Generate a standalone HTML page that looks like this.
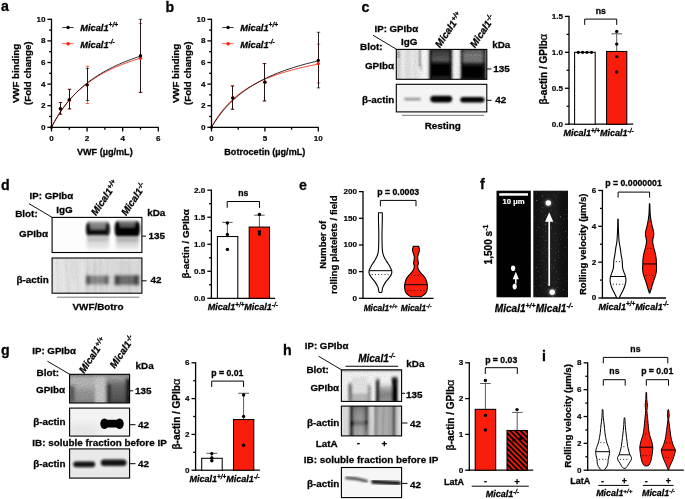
<!DOCTYPE html>
<html><head><meta charset="utf-8"><title>Figure</title>
<style>
html,body{margin:0;padding:0;background:#fff;}
body{width:685px;height:499px;overflow:hidden;}
svg{display:block;}
svg text{font-family:"Liberation Sans",sans-serif;}
</style></head><body>
<svg width="685" height="499" viewBox="0 0 685 499">
<defs>

<filter id="b1" x="-20%" y="-50%" width="140%" height="200%"><feGaussianBlur stdDeviation="1"/></filter>
<filter id="b15" x="-20%" y="-50%" width="140%" height="200%"><feGaussianBlur stdDeviation="1.5"/></filter>
<filter id="b2" x="-30%" y="-60%" width="160%" height="220%"><feGaussianBlur stdDeviation="2.2"/></filter>
<filter id="b3" x="-30%" y="-60%" width="160%" height="220%"><feGaussianBlur stdDeviation="3.2"/></filter>
<filter id="b07" x="-20%" y="-50%" width="140%" height="200%"><feGaussianBlur stdDeviation="0.7"/></filter>
<filter id="grain" x="0" y="0" width="100%" height="100%">
  <feTurbulence type="fractalNoise" baseFrequency="0.9" numOctaves="2" seed="3" result="n"/>
  <feColorMatrix type="matrix" values="0 0 0 0 0  0 0 0 0 0  0 0 0 0 0  1.6 0 0 0 -0.55"/>
</filter>
<filter id="streak" x="0" y="0" width="100%" height="100%">
  <feTurbulence type="fractalNoise" baseFrequency="0.35 0.02" numOctaves="2" seed="7" result="n"/>
  <feColorMatrix type="matrix" values="0 0 0 0 0  0 0 0 0 0  0 0 0 0 0  1.8 0 0 0 -0.6"/>
</filter>

<filter id="gb1" filterUnits="userSpaceOnUse" x="0" y="0" width="685" height="499"><feGaussianBlur stdDeviation="1.0"/></filter>
<filter id="gb13" filterUnits="userSpaceOnUse" x="0" y="0" width="685" height="499"><feGaussianBlur stdDeviation="1.3"/></filter>
<filter id="gb07" filterUnits="userSpaceOnUse" x="0" y="0" width="685" height="499"><feGaussianBlur stdDeviation="0.7"/></filter>
<filter id="gb18" filterUnits="userSpaceOnUse" x="0" y="0" width="685" height="499"><feGaussianBlur stdDeviation="1.8"/></filter>
<filter id="gbh" filterUnits="userSpaceOnUse" x="0" y="0" width="685" height="499"><feGaussianBlur stdDeviation="1.1 0.6"/></filter>
<clipPath id="cl1"><rect x="396.30" y="49.40" width="90.50" height="29.90"/></clipPath><linearGradient id="g1" x1="0" y1="0" x2="0" y2="1"><stop offset="0" stop-color="#2e2e2e" stop-opacity="1"/><stop offset="0.2" stop-color="#4c4c4c" stop-opacity="1"/><stop offset="0.36" stop-color="#5e5e5e" stop-opacity="1"/><stop offset="0.47" stop-color="#1c1c1c" stop-opacity="1"/><stop offset="0.54" stop-color="#000" stop-opacity="1"/><stop offset="0.8" stop-color="#000" stop-opacity="1"/><stop offset="0.9" stop-color="#222" stop-opacity="1"/><stop offset="1" stop-color="#303030" stop-opacity="1"/></linearGradient><linearGradient id="g2" x1="0" y1="0" x2="0" y2="1"><stop offset="0" stop-color="#484848" stop-opacity="1"/><stop offset="0.2" stop-color="#808080" stop-opacity="1"/><stop offset="0.4" stop-color="#787878" stop-opacity="1"/><stop offset="0.5" stop-color="#222" stop-opacity="1"/><stop offset="0.58" stop-color="#000" stop-opacity="1"/><stop offset="0.84" stop-color="#000" stop-opacity="1"/><stop offset="0.93" stop-color="#1a1a1a" stop-opacity="1"/><stop offset="1" stop-color="#2a2a2a" stop-opacity="1"/></linearGradient><clipPath id="cl2"><rect x="396.30" y="84.30" width="90.50" height="27.60"/></clipPath><clipPath id="cl3"><rect x="52.10" y="217.40" width="89.80" height="35.10"/></clipPath><linearGradient id="g3" x1="0" y1="0" x2="0" y2="1"><stop offset="0" stop-color="#cfcfcf" stop-opacity="1"/><stop offset="0.25" stop-color="#c4c4c4" stop-opacity="1"/><stop offset="0.45" stop-color="#d6d6d6" stop-opacity="1"/><stop offset="1" stop-color="#ededed" stop-opacity="1"/></linearGradient><linearGradient id="g4" x1="0" y1="0" x2="0" y2="1"><stop offset="0" stop-color="#c4c4c4" stop-opacity="1"/><stop offset="0.25" stop-color="#b8b8b8" stop-opacity="1"/><stop offset="0.45" stop-color="#d0d0d0" stop-opacity="1"/><stop offset="1" stop-color="#ebebeb" stop-opacity="1"/></linearGradient><linearGradient id="g5" x1="0" y1="0" x2="0" y2="1"><stop offset="0" stop-color="#b0b0b0" stop-opacity="1"/><stop offset="0.3" stop-color="#8a8a8a" stop-opacity="1"/><stop offset="1" stop-color="#6c6c6c" stop-opacity="1"/></linearGradient><linearGradient id="g6" x1="0" y1="0" x2="0" y2="1"><stop offset="0" stop-color="#a0a0a0" stop-opacity="1"/><stop offset="0.3" stop-color="#6a6a6a" stop-opacity="1"/><stop offset="1" stop-color="#3a3a3a" stop-opacity="1"/></linearGradient><clipPath id="cl4"><rect x="52.10" y="258.00" width="89.80" height="35.20"/></clipPath><clipPath id="cl5"><rect x="69.60" y="374.30" width="60.00" height="28.70"/></clipPath><linearGradient id="g7" x1="0" y1="0" x2="0" y2="1"><stop offset="0" stop-color="#b6b6b6" stop-opacity="0"/><stop offset="0.35" stop-color="#9c9c9c" stop-opacity="1"/><stop offset="1" stop-color="#8c8c8c" stop-opacity="1"/></linearGradient><linearGradient id="g8" x1="0" y1="0" x2="0" y2="1"><stop offset="0" stop-color="#a8a8a8" stop-opacity="1"/><stop offset="0.3" stop-color="#6e6e6e" stop-opacity="1"/><stop offset="1" stop-color="#505050" stop-opacity="1"/></linearGradient><clipPath id="cl6"><rect x="69.60" y="408.10" width="60.00" height="28.00"/></clipPath><clipPath id="cl7"><rect x="69.60" y="448.90" width="60.00" height="29.20"/></clipPath><clipPath id="cl8"><rect x="341.40" y="369.80" width="60.20" height="31.60"/></clipPath><linearGradient id="g9" x1="0" y1="0" x2="0" y2="1"><stop offset="0" stop-color="#777" stop-opacity="0"/><stop offset="0.25" stop-color="#777" stop-opacity="1"/><stop offset="1" stop-color="#808080" stop-opacity="1"/></linearGradient><linearGradient id="g10" x1="0" y1="0" x2="0" y2="1"><stop offset="0" stop-color="#a0a0a0" stop-opacity="0"/><stop offset="0.3" stop-color="#a0a0a0" stop-opacity="1"/><stop offset="1" stop-color="#a0a0a0" stop-opacity="1"/></linearGradient><linearGradient id="g11" x1="0" y1="0" x2="0" y2="1"><stop offset="0" stop-color="#d8d8d8" stop-opacity="0"/><stop offset="0.3" stop-color="#b0b0b0" stop-opacity="1"/><stop offset="0.6" stop-color="#858585" stop-opacity="1"/><stop offset="1" stop-color="#9a9a9a" stop-opacity="1"/></linearGradient><linearGradient id="g12" x1="0" y1="0" x2="0" y2="1"><stop offset="0" stop-color="#333" stop-opacity="0"/><stop offset="0.2" stop-color="#333" stop-opacity="1"/><stop offset="1" stop-color="#2a2a2a" stop-opacity="1"/></linearGradient><linearGradient id="g13" x1="0" y1="0" x2="0" y2="1"><stop offset="0" stop-color="#000" stop-opacity="0"/><stop offset="0.15" stop-color="#0a0a0a" stop-opacity="1"/><stop offset="1" stop-color="#000" stop-opacity="1"/></linearGradient><clipPath id="cl9"><rect x="341.40" y="406.10" width="60.20" height="29.80"/></clipPath><linearGradient id="g14" x1="0" y1="0" x2="0" y2="1"><stop offset="0" stop-color="#6a6a6a" stop-opacity="1"/><stop offset="0.2" stop-color="#8c8c8c" stop-opacity="1"/><stop offset="0.5" stop-color="#9a9a9a" stop-opacity="1"/><stop offset="1" stop-color="#a8a8a8" stop-opacity="1"/></linearGradient><linearGradient id="g15" x1="0" y1="0" x2="0" y2="1"><stop offset="0" stop-color="#444" stop-opacity="1"/><stop offset="0.7" stop-color="#5a5a5a" stop-opacity="1"/><stop offset="1" stop-color="#888" stop-opacity="1"/></linearGradient><clipPath id="cl10"><rect x="341.40" y="467.50" width="60.20" height="30.10"/></clipPath><pattern id="hatch" width="3.7" height="3.7" patternUnits="userSpaceOnUse" patternTransform="translate(506.9 429) rotate(-45 0 0)">
<rect width="3.7" height="3.7" fill="#fb1d0c"/><rect x="0" y="0" width="2.0" height="3.7" fill="#000"/></pattern><filter id="spark" x="0" y="0" width="100%" height="100%">
  <feTurbulence type="fractalNoise" baseFrequency="0.55" numOctaves="2" seed="11"/>
  <feColorMatrix type="matrix" values="0 0 0 0 1  0 0 0 0 1  0 0 0 0 1  4.5 0 0 0 -3.05"/></filter>
</defs>
<rect width="685" height="499" fill="#fff"/>
<g opacity="0.999">
<text x="1.00" y="11.20" font-size="14.2" text-anchor="start" font-weight="bold" fill="#000" stroke="#000" stroke-width="0.28" >a</text>
<line x1="51.50" y1="127.95" x2="51.50" y2="18.65" stroke="#000" stroke-width="1.3" />
<line x1="47.40" y1="127.30" x2="51.50" y2="127.30" stroke="#000" stroke-width="1.3" />
<text x="45.40" y="129.73" font-size="8.1" text-anchor="end" font-weight="bold" fill="#000" stroke="#000" stroke-width="0.18" >0</text>
<line x1="47.40" y1="105.70" x2="51.50" y2="105.70" stroke="#000" stroke-width="1.3" />
<text x="45.40" y="108.13" font-size="8.1" text-anchor="end" font-weight="bold" fill="#000" stroke="#000" stroke-width="0.18" >2</text>
<line x1="47.40" y1="84.10" x2="51.50" y2="84.10" stroke="#000" stroke-width="1.3" />
<text x="45.40" y="86.53" font-size="8.1" text-anchor="end" font-weight="bold" fill="#000" stroke="#000" stroke-width="0.18" >4</text>
<line x1="47.40" y1="62.50" x2="51.50" y2="62.50" stroke="#000" stroke-width="1.3" />
<text x="45.40" y="64.93" font-size="8.1" text-anchor="end" font-weight="bold" fill="#000" stroke="#000" stroke-width="0.18" >6</text>
<line x1="47.40" y1="40.90" x2="51.50" y2="40.90" stroke="#000" stroke-width="1.3" />
<text x="45.40" y="43.33" font-size="8.1" text-anchor="end" font-weight="bold" fill="#000" stroke="#000" stroke-width="0.18" >8</text>
<line x1="47.40" y1="19.30" x2="51.50" y2="19.30" stroke="#000" stroke-width="1.3" />
<text x="45.40" y="21.73" font-size="8.1" text-anchor="end" font-weight="bold" fill="#000" stroke="#000" stroke-width="0.18" >10</text>
<line x1="49.10" y1="116.50" x2="51.50" y2="116.50" stroke="#000" stroke-width="1.3" />
<line x1="49.10" y1="94.90" x2="51.50" y2="94.90" stroke="#000" stroke-width="1.3" />
<line x1="49.10" y1="73.30" x2="51.50" y2="73.30" stroke="#000" stroke-width="1.3" />
<line x1="49.10" y1="51.70" x2="51.50" y2="51.70" stroke="#000" stroke-width="1.3" />
<line x1="49.10" y1="30.10" x2="51.50" y2="30.10" stroke="#000" stroke-width="1.3" />
<line x1="50.85" y1="127.30" x2="158.80" y2="127.30" stroke="#000" stroke-width="1.3" />
<line x1="51.50" y1="127.30" x2="51.50" y2="131.40" stroke="#000" stroke-width="1.3" />
<text x="51.50" y="140.90" font-size="8.1" text-anchor="middle" font-weight="bold" fill="#000" stroke="#000" stroke-width="0.18" >0</text>
<line x1="87.10" y1="127.30" x2="87.10" y2="131.40" stroke="#000" stroke-width="1.3" />
<text x="87.10" y="140.90" font-size="8.1" text-anchor="middle" font-weight="bold" fill="#000" stroke="#000" stroke-width="0.18" >2</text>
<line x1="122.70" y1="127.30" x2="122.70" y2="131.40" stroke="#000" stroke-width="1.3" />
<text x="122.70" y="140.90" font-size="8.1" text-anchor="middle" font-weight="bold" fill="#000" stroke="#000" stroke-width="0.18" >4</text>
<line x1="158.30" y1="127.30" x2="158.30" y2="131.40" stroke="#000" stroke-width="1.3" />
<text x="158.30" y="140.90" font-size="8.1" text-anchor="middle" font-weight="bold" fill="#000" stroke="#000" stroke-width="0.18" >6</text>
<line x1="69.30" y1="127.30" x2="69.30" y2="129.70" stroke="#000" stroke-width="1.3" />
<line x1="104.90" y1="127.30" x2="104.90" y2="129.70" stroke="#000" stroke-width="1.3" />
<line x1="140.50" y1="127.30" x2="140.50" y2="129.70" stroke="#000" stroke-width="1.3" />
<text x="104.80" y="154.80" font-size="9.1" text-anchor="middle" font-weight="bold" fill="#000" stroke="#000" stroke-width="0.28" >VWF (µg/mL)</text>
<text x="19.20" y="73.50" font-size="9.7" text-anchor="middle" font-weight="bold" fill="#000" stroke="#000" stroke-width="0.28" transform="rotate(-90 19.20 73.50)" >VWF binding</text>
<text x="31.20" y="73.20" font-size="9.7" text-anchor="middle" font-weight="bold" fill="#000" stroke="#000" stroke-width="0.28" transform="rotate(-90 31.20 73.20)" >(Fold change)</text>
<path d="M51.50 127.30 L52.98 124.40 L54.47 121.64 L55.95 119.02 L57.43 116.52 L58.92 114.14 L60.40 111.87 L61.88 109.70 L63.37 107.63 L64.85 105.64 L66.33 103.74 L67.82 101.91 L69.30 100.16 L70.78 98.47 L72.27 96.85 L73.75 95.30 L75.23 93.80 L76.72 92.35 L78.20 90.96 L79.68 89.62 L81.17 88.32 L82.65 87.06 L84.13 85.85 L85.62 84.68 L87.10 83.55 L88.58 82.45 L90.07 81.39 L91.55 80.35 L93.03 79.36 L94.52 78.39 L96.00 77.45 L97.48 76.53 L98.97 75.64 L100.45 74.78 L101.93 73.94 L103.42 73.13 L104.90 72.33 L106.38 71.56 L107.87 70.81 L109.35 70.08 L110.83 69.37 L112.32 68.67 L113.80 67.99 L115.28 67.33 L116.77 66.69 L118.25 66.06 L119.73 65.44 L121.22 64.84 L122.70 64.26 L124.18 63.68 L125.67 63.13 L127.15 62.58 L128.63 62.04 L130.12 61.52 L131.60 61.01 L133.08 60.51 L134.57 60.02 L136.05 59.54 L137.53 59.07 L139.02 58.61 L140.50 58.16" fill="none" stroke="#fb1d0c" stroke-width="0.85" />
<path d="M51.50 127.30 L52.98 124.45 L54.47 121.73 L55.95 119.13 L57.43 116.65 L58.92 114.28 L60.40 112.01 L61.88 109.83 L63.37 107.74 L64.85 105.74 L66.33 103.81 L67.82 101.96 L69.30 100.18 L70.78 98.46 L72.27 96.81 L73.75 95.21 L75.23 93.67 L76.72 92.19 L78.20 90.75 L79.68 89.36 L81.17 88.02 L82.65 86.72 L84.13 85.46 L85.62 84.25 L87.10 83.06 L88.58 81.92 L90.07 80.81 L91.55 79.73 L93.03 78.68 L94.52 77.66 L96.00 76.67 L97.48 75.71 L98.97 74.78 L100.45 73.87 L101.93 72.98 L103.42 72.12 L104.90 71.28 L106.38 70.46 L107.87 69.67 L109.35 68.89 L110.83 68.13 L112.32 67.39 L113.80 66.67 L115.28 65.96 L116.77 65.27 L118.25 64.60 L119.73 63.94 L121.22 63.30 L122.70 62.67 L124.18 62.06 L125.67 61.46 L127.15 60.87 L128.63 60.30 L130.12 59.74 L131.60 59.19 L133.08 58.65 L134.57 58.12 L136.05 57.60 L137.53 57.10 L139.02 56.60 L140.50 56.11" fill="none" stroke="#000" stroke-width="0.85" />
<line x1="60.50" y1="114.34" x2="60.50" y2="102.46" stroke="#fb1d0c" stroke-width="0.6" />
<line x1="58.80" y1="102.46" x2="62.20" y2="102.46" stroke="#fb1d0c" stroke-width="0.7" />
<line x1="58.80" y1="114.34" x2="62.20" y2="114.34" stroke="#fb1d0c" stroke-width="0.7" />
<line x1="69.50" y1="109.16" x2="69.50" y2="89.50" stroke="#fb1d0c" stroke-width="0.6" />
<line x1="67.80" y1="89.50" x2="71.20" y2="89.50" stroke="#fb1d0c" stroke-width="0.7" />
<line x1="67.80" y1="109.16" x2="71.20" y2="109.16" stroke="#fb1d0c" stroke-width="0.7" />
<line x1="87.50" y1="103.54" x2="87.50" y2="66.28" stroke="#fb1d0c" stroke-width="0.6" />
<line x1="85.80" y1="66.28" x2="89.20" y2="66.28" stroke="#fb1d0c" stroke-width="0.7" />
<line x1="85.80" y1="103.54" x2="89.20" y2="103.54" stroke="#fb1d0c" stroke-width="0.7" />
<line x1="140.50" y1="92.42" x2="140.50" y2="23.40" stroke="#fb1d0c" stroke-width="0.6" />
<line x1="138.80" y1="23.40" x2="142.20" y2="23.40" stroke="#fb1d0c" stroke-width="0.7" />
<line x1="138.80" y1="92.42" x2="142.20" y2="92.42" stroke="#fb1d0c" stroke-width="0.7" />
<line x1="60.50" y1="114.12" x2="60.50" y2="102.46" stroke="#000" stroke-width="0.85" />
<line x1="58.80" y1="102.46" x2="62.20" y2="102.46" stroke="#000" stroke-width="0.7" />
<line x1="58.80" y1="114.12" x2="62.20" y2="114.12" stroke="#000" stroke-width="0.7" />
<line x1="69.50" y1="108.72" x2="69.50" y2="89.18" stroke="#000" stroke-width="0.85" />
<line x1="67.80" y1="89.18" x2="71.20" y2="89.18" stroke="#000" stroke-width="0.7" />
<line x1="67.80" y1="108.72" x2="71.20" y2="108.72" stroke="#000" stroke-width="0.7" />
<line x1="87.50" y1="100.41" x2="87.50" y2="68.33" stroke="#000" stroke-width="0.85" />
<line x1="85.80" y1="68.33" x2="89.20" y2="68.33" stroke="#000" stroke-width="0.7" />
<line x1="85.80" y1="100.41" x2="89.20" y2="100.41" stroke="#000" stroke-width="0.7" />
<line x1="140.50" y1="92.42" x2="140.50" y2="19.30" stroke="#000" stroke-width="0.85" />
<line x1="138.80" y1="19.30" x2="142.20" y2="19.30" stroke="#000" stroke-width="0.7" />
<line x1="138.80" y1="92.42" x2="142.20" y2="92.42" stroke="#000" stroke-width="0.7" />
<circle cx="60.40" cy="108.72" r="1.7" fill="#fb1d0c" />
<circle cx="69.30" cy="100.30" r="1.7" fill="#fb1d0c" />
<circle cx="87.10" cy="84.86" r="1.7" fill="#fb1d0c" />
<circle cx="140.50" cy="58.18" r="1.7" fill="#fb1d0c" />
<circle cx="60.40" cy="108.72" r="1.7" fill="#000" />
<circle cx="69.30" cy="99.65" r="1.7" fill="#000" />
<circle cx="87.10" cy="84.86" r="1.7" fill="#000" />
<circle cx="140.50" cy="55.80" r="1.7" fill="#000" />
<circle cx="51.50" cy="127.30" r="1.5" fill="#000" />
<line x1="62.30" y1="27.50" x2="73.60" y2="27.50" stroke="#000" stroke-width="0.8" />
<circle cx="68.10" cy="27.50" r="1.7" fill="#000" />
<text x="80.20" y="30.60" font-size="9.3" text-anchor="start" font-weight="bold" font-style="italic" fill="#000" stroke="#000" stroke-width="0.28" >Mical1<tspan font-size="6.51" dy="-3.16">+/+</tspan></text>
<line x1="62.30" y1="43.70" x2="73.60" y2="43.70" stroke="#fb1d0c" stroke-width="0.8" />
<circle cx="68.10" cy="43.80" r="1.7" fill="#fb1d0c" />
<text x="80.20" y="47.60" font-size="9.3" text-anchor="start" font-weight="bold" font-style="italic" fill="#000" stroke="#000" stroke-width="0.28" >Mical1<tspan font-size="6.51" dy="-3.16">-/-</tspan></text>
<text x="165.50" y="11.60" font-size="14.2" text-anchor="start" font-weight="bold" fill="#000" stroke="#000" stroke-width="0.28" >b</text>
<line x1="211.50" y1="127.95" x2="211.50" y2="18.65" stroke="#000" stroke-width="1.3" />
<line x1="207.40" y1="127.30" x2="211.50" y2="127.30" stroke="#000" stroke-width="1.3" />
<text x="205.40" y="129.73" font-size="8.1" text-anchor="end" font-weight="bold" fill="#000" stroke="#000" stroke-width="0.18" >0</text>
<line x1="207.40" y1="105.70" x2="211.50" y2="105.70" stroke="#000" stroke-width="1.3" />
<text x="205.40" y="108.13" font-size="8.1" text-anchor="end" font-weight="bold" fill="#000" stroke="#000" stroke-width="0.18" >2</text>
<line x1="207.40" y1="84.10" x2="211.50" y2="84.10" stroke="#000" stroke-width="1.3" />
<text x="205.40" y="86.53" font-size="8.1" text-anchor="end" font-weight="bold" fill="#000" stroke="#000" stroke-width="0.18" >4</text>
<line x1="207.40" y1="62.50" x2="211.50" y2="62.50" stroke="#000" stroke-width="1.3" />
<text x="205.40" y="64.93" font-size="8.1" text-anchor="end" font-weight="bold" fill="#000" stroke="#000" stroke-width="0.18" >6</text>
<line x1="207.40" y1="40.90" x2="211.50" y2="40.90" stroke="#000" stroke-width="1.3" />
<text x="205.40" y="43.33" font-size="8.1" text-anchor="end" font-weight="bold" fill="#000" stroke="#000" stroke-width="0.18" >8</text>
<line x1="207.40" y1="19.30" x2="211.50" y2="19.30" stroke="#000" stroke-width="1.3" />
<text x="205.40" y="21.73" font-size="8.1" text-anchor="end" font-weight="bold" fill="#000" stroke="#000" stroke-width="0.18" >10</text>
<line x1="209.10" y1="116.50" x2="211.50" y2="116.50" stroke="#000" stroke-width="1.3" />
<line x1="209.10" y1="94.90" x2="211.50" y2="94.90" stroke="#000" stroke-width="1.3" />
<line x1="209.10" y1="73.30" x2="211.50" y2="73.30" stroke="#000" stroke-width="1.3" />
<line x1="209.10" y1="51.70" x2="211.50" y2="51.70" stroke="#000" stroke-width="1.3" />
<line x1="209.10" y1="30.10" x2="211.50" y2="30.10" stroke="#000" stroke-width="1.3" />
<line x1="210.85" y1="127.30" x2="318.80" y2="127.30" stroke="#000" stroke-width="1.3" />
<line x1="211.50" y1="127.30" x2="211.50" y2="131.40" stroke="#000" stroke-width="1.3" />
<text x="211.50" y="140.90" font-size="8.1" text-anchor="middle" font-weight="bold" fill="#000" stroke="#000" stroke-width="0.18" >0</text>
<line x1="264.90" y1="127.30" x2="264.90" y2="131.40" stroke="#000" stroke-width="1.3" />
<text x="264.90" y="140.90" font-size="8.1" text-anchor="middle" font-weight="bold" fill="#000" stroke="#000" stroke-width="0.18" >5</text>
<line x1="318.30" y1="127.30" x2="318.30" y2="131.40" stroke="#000" stroke-width="1.3" />
<text x="318.30" y="140.90" font-size="8.1" text-anchor="middle" font-weight="bold" fill="#000" stroke="#000" stroke-width="0.18" >10</text>
<line x1="238.20" y1="127.30" x2="238.20" y2="129.70" stroke="#000" stroke-width="1.3" />
<line x1="291.60" y1="127.30" x2="291.60" y2="129.70" stroke="#000" stroke-width="1.3" />
<text x="264.80" y="154.80" font-size="9.1" text-anchor="middle" font-weight="bold" fill="#000" stroke="#000" stroke-width="0.28" >Botrocetin (µg/mL)</text>
<text x="179.20" y="73.50" font-size="9.7" text-anchor="middle" font-weight="bold" fill="#000" stroke="#000" stroke-width="0.28" transform="rotate(-90 179.20 73.50)" >VWF binding</text>
<text x="191.20" y="73.20" font-size="9.7" text-anchor="middle" font-weight="bold" fill="#000" stroke="#000" stroke-width="0.28" transform="rotate(-90 191.20 73.20)" >(Fold change)</text>
<path d="M211.50 127.30 L213.28 124.07 L215.06 121.06 L216.84 118.25 L218.62 115.61 L220.40 113.14 L222.18 110.81 L223.96 108.62 L225.74 106.55 L227.52 104.60 L229.30 102.75 L231.08 100.99 L232.86 99.32 L234.64 97.74 L236.42 96.23 L238.20 94.80 L239.98 93.43 L241.76 92.12 L243.54 90.87 L245.32 89.67 L247.10 88.52 L248.88 87.42 L250.66 86.37 L252.44 85.35 L254.22 84.38 L256.00 83.44 L257.78 82.54 L259.56 81.67 L261.34 80.83 L263.12 80.02 L264.90 79.24 L266.68 78.49 L268.46 77.76 L270.24 77.05 L272.02 76.37 L273.80 75.71 L275.58 75.07 L277.36 74.46 L279.14 73.86 L280.92 73.27 L282.70 72.71 L284.48 72.16 L286.26 71.63 L288.04 71.11 L289.82 70.61 L291.60 70.12 L293.38 69.64 L295.16 69.18 L296.94 68.73 L298.72 68.29 L300.50 67.86 L302.28 67.44 L304.06 67.04 L305.84 66.64 L307.62 66.25 L309.40 65.88 L311.18 65.51 L312.96 65.15 L314.74 64.80 L316.52 64.46 L318.30 64.12" fill="none" stroke="#fb1d0c" stroke-width="0.85" />
<path d="M211.50 127.30 L213.28 124.37 L215.06 121.59 L216.84 118.96 L218.62 116.47 L220.40 114.11 L222.18 111.86 L223.96 109.71 L225.74 107.67 L227.52 105.72 L229.30 103.86 L231.08 102.08 L232.86 100.38 L234.64 98.74 L236.42 97.18 L238.20 95.68 L239.98 94.23 L241.76 92.84 L243.54 91.51 L245.32 90.22 L247.10 88.99 L248.88 87.79 L250.66 86.64 L252.44 85.53 L254.22 84.45 L256.00 83.41 L257.78 82.41 L259.56 81.44 L261.34 80.50 L263.12 79.59 L264.90 78.71 L266.68 77.85 L268.46 77.02 L270.24 76.21 L272.02 75.43 L273.80 74.67 L275.58 73.93 L277.36 73.21 L279.14 72.52 L280.92 71.84 L282.70 71.18 L284.48 70.53 L286.26 69.91 L288.04 69.29 L289.82 68.70 L291.60 68.12 L293.38 67.55 L295.16 67.00 L296.94 66.46 L298.72 65.94 L300.50 65.42 L302.28 64.92 L304.06 64.43 L305.84 63.95 L307.62 63.49 L309.40 63.03 L311.18 62.58 L312.96 62.14 L314.74 61.72 L316.52 61.30 L318.30 60.89" fill="none" stroke="#000" stroke-width="0.85" />
<line x1="232.50" y1="109.26" x2="232.50" y2="85.40" stroke="#fb1d0c" stroke-width="0.6" />
<line x1="230.80" y1="85.40" x2="234.20" y2="85.40" stroke="#fb1d0c" stroke-width="0.7" />
<line x1="230.80" y1="109.26" x2="234.20" y2="109.26" stroke="#fb1d0c" stroke-width="0.7" />
<line x1="264.50" y1="100.95" x2="264.50" y2="63.58" stroke="#fb1d0c" stroke-width="0.6" />
<line x1="262.80" y1="63.58" x2="266.20" y2="63.58" stroke="#fb1d0c" stroke-width="0.7" />
<line x1="262.80" y1="100.95" x2="266.20" y2="100.95" stroke="#fb1d0c" stroke-width="0.7" />
<line x1="318.50" y1="83.02" x2="318.50" y2="44.14" stroke="#fb1d0c" stroke-width="0.6" />
<line x1="316.80" y1="44.14" x2="320.20" y2="44.14" stroke="#fb1d0c" stroke-width="0.7" />
<line x1="316.80" y1="83.02" x2="320.20" y2="83.02" stroke="#fb1d0c" stroke-width="0.7" />
<line x1="232.50" y1="109.26" x2="232.50" y2="86.15" stroke="#000" stroke-width="0.85" />
<line x1="230.80" y1="86.15" x2="234.20" y2="86.15" stroke="#000" stroke-width="0.7" />
<line x1="230.80" y1="109.26" x2="234.20" y2="109.26" stroke="#000" stroke-width="0.7" />
<line x1="264.50" y1="100.95" x2="264.50" y2="63.58" stroke="#000" stroke-width="0.85" />
<line x1="262.80" y1="63.58" x2="266.20" y2="63.58" stroke="#000" stroke-width="0.7" />
<line x1="262.80" y1="100.95" x2="266.20" y2="100.95" stroke="#000" stroke-width="0.7" />
<line x1="318.50" y1="87.88" x2="318.50" y2="32.26" stroke="#000" stroke-width="0.85" />
<line x1="316.80" y1="32.26" x2="320.20" y2="32.26" stroke="#000" stroke-width="0.7" />
<line x1="316.80" y1="87.88" x2="320.20" y2="87.88" stroke="#000" stroke-width="0.7" />
<circle cx="232.86" cy="97.92" r="1.7" fill="#fb1d0c" />
<circle cx="264.90" cy="82.16" r="1.7" fill="#fb1d0c" />
<circle cx="318.30" cy="63.58" r="1.7" fill="#fb1d0c" />
<circle cx="232.86" cy="97.92" r="1.7" fill="#000" />
<circle cx="264.90" cy="82.16" r="1.7" fill="#000" />
<circle cx="318.30" cy="60.34" r="1.7" fill="#000" />
<circle cx="211.50" cy="127.30" r="1.5" fill="#000" />
<line x1="222.30" y1="27.50" x2="233.60" y2="27.50" stroke="#000" stroke-width="0.8" />
<circle cx="228.10" cy="27.50" r="1.7" fill="#000" />
<text x="240.20" y="30.60" font-size="9.3" text-anchor="start" font-weight="bold" font-style="italic" fill="#000" stroke="#000" stroke-width="0.28" >Mical1<tspan font-size="6.51" dy="-3.16">+/+</tspan></text>
<line x1="222.30" y1="43.70" x2="233.60" y2="43.70" stroke="#fb1d0c" stroke-width="0.8" />
<circle cx="228.10" cy="43.80" r="1.7" fill="#fb1d0c" />
<text x="240.20" y="47.60" font-size="9.3" text-anchor="start" font-weight="bold" font-style="italic" fill="#000" stroke="#000" stroke-width="0.28" >Mical1<tspan font-size="6.51" dy="-3.16">-/-</tspan></text>
<text x="361.50" y="12.00" font-size="14.2" text-anchor="start" font-weight="bold" fill="#000" stroke="#000" stroke-width="0.28" >c</text>
<text x="374.50" y="31.90" font-size="9.7" text-anchor="start" font-weight="bold" fill="#000" stroke="#000" stroke-width="0.28" >IP: GPIbα</text>
<text x="401.00" y="45.40" font-size="9.9" text-anchor="start" font-weight="bold" fill="#000" stroke="#000" stroke-width="0.28" >IgG</text>
<text x="360.00" y="49.60" font-size="9.9" text-anchor="start" font-weight="bold" fill="#000" stroke="#000" stroke-width="0.28" >Blot:</text>
<text x="394.00" y="69.00" font-size="9.9" text-anchor="end" font-weight="bold" fill="#000" stroke="#000" stroke-width="0.28" >GPIbα</text>
<text x="394.40" y="103.30" font-size="9.9" text-anchor="end" font-weight="bold" fill="#000" stroke="#000" stroke-width="0.28" >β-actin</text>
<text x="492.20" y="48.30" font-size="9.9" text-anchor="start" font-weight="bold" fill="#000" stroke="#000" stroke-width="0.28" >kDa</text>
<text x="493.20" y="72.00" font-size="9.9" text-anchor="start" font-weight="bold" fill="#000" stroke="#000" stroke-width="0.28" >135</text>
<text x="495.30" y="102.70" font-size="9.9" text-anchor="start" font-weight="bold" fill="#000" stroke="#000" stroke-width="0.28" >42</text>
<line x1="486.80" y1="69.00" x2="491.40" y2="69.00" stroke="#000" stroke-width="1.0" />
<line x1="486.80" y1="100.30" x2="491.60" y2="100.30" stroke="#000" stroke-width="1.0" />
<line x1="373.00" y1="35.20" x2="396.30" y2="49.20" stroke="#000" stroke-width="0.95" />
<text x="440.10" y="48.40" font-size="9.9" text-anchor="start" font-weight="bold" font-style="italic" fill="#000" stroke="#000" stroke-width="0.28" transform="rotate(-56 440.10 48.40)" >Mical1<tspan font-size="6.93" dy="-3.37">+/+</tspan></text>
<text x="475.00" y="48.40" font-size="9.9" text-anchor="start" font-weight="bold" font-style="italic" fill="#000" stroke="#000" stroke-width="0.28" transform="rotate(-56 475.00 48.40)" >Mical1<tspan font-size="6.93" dy="-3.37">-/-</tspan></text>
<line x1="402.00" y1="115.30" x2="484.00" y2="115.30" stroke="#777" stroke-width="1.0" />
<text x="442.80" y="129.20" font-size="9.9" text-anchor="middle" font-weight="bold" fill="#000" stroke="#000" stroke-width="0.28" >Resting</text>
<g clip-path="url(#cl1)">
<rect x="396.30" y="49.40" width="90.50" height="29.90" fill="#efefef"/>
<g filter="url(#gbh)">
<rect x="397.00" y="49.00" width="3.50" height="31.00" rx="0" fill="#c8c8c8" opacity="0.8"/>
<rect x="397.50" y="51.00" width="1.70" height="7.00" rx="0" fill="#555" opacity="0.7"/>
<rect x="405.00" y="49.00" width="6.00" height="31.00" rx="0" fill="#dcdcdc" opacity="0.8"/>
<rect x="413.50" y="49.00" width="4.00" height="31.00" rx="0" fill="#e0e0e0" opacity="0.8"/>
<rect x="419.20" y="49.00" width="1.50" height="17.00" rx="0" fill="#3a3a3a" opacity="0.9"/>
<path d="M420 64 L423.5 75.5" stroke="#666" stroke-width="1.2" fill="none"/>
<ellipse cx="423.3" cy="74.8" rx="1.1" ry="1.9" fill="#111" transform="rotate(-35 423.3 74.8)"/>
<rect x="421.60" y="49.00" width="7.00" height="31.00" rx="0" fill="#f9f9f9" opacity="1.0"/>
<rect x="428.80" y="48.00" width="23.60" height="33.00" rx="0" fill="url(#g1)" opacity="1.0"/>
<rect x="428.80" y="48.00" width="3.20" height="33.00" rx="0" fill="#0a0a0a" opacity="0.8"/>
<rect x="449.00" y="48.00" width="3.40" height="33.00" rx="0" fill="#141414" opacity="0.75"/>
<rect x="453.00" y="48.00" width="6.80" height="33.00" rx="0" fill="#f4f4f4" opacity="1.0"/>
<rect x="460.20" y="48.00" width="25.80" height="33.00" rx="0" fill="url(#g2)" opacity="1.0"/>
<rect x="460.20" y="48.00" width="3.00" height="33.00" rx="0" fill="#111" opacity="0.75"/>
<rect x="482.80" y="48.00" width="3.20" height="33.00" rx="0" fill="#1a1a1a" opacity="0.75"/>
</g>
<rect x="396.00" y="49.00" width="33.00" height="31.00" filter="url(#grain)" opacity="0.1"/>
<rect x="429.00" y="49.00" width="23.40" height="31.00" filter="url(#grain)" opacity="0.3"/>
<rect x="452.40" y="49.00" width="7.80" height="31.00" filter="url(#grain)" opacity="0.08"/>
<rect x="460.20" y="49.00" width="26.80" height="31.00" filter="url(#grain)" opacity="0.3"/>
</g>
<rect x="396.30" y="49.40" width="90.50" height="29.90" fill="none" stroke="#000" stroke-width="1.1" />
<g clip-path="url(#cl2)">
<rect x="396.30" y="84.30" width="90.50" height="27.60" fill="#f4f4f4"/>
<rect x="404.00" y="97.70" width="17.00" height="2.80" rx="1.40" fill="#777" opacity="0.75" filter="url(#b1)"/>
<rect x="430.30" y="95.80" width="21.90" height="6.60" rx="3.30" fill="#000" opacity="1" filter="url(#b1)"/>
<rect x="460.30" y="97.00" width="24.20" height="5.40" rx="2.70" fill="#000" opacity="1" filter="url(#b1)"/>
</g>
<rect x="396.30" y="84.30" width="90.50" height="27.60" fill="none" stroke="#000" stroke-width="1.1" />
<text x="1.00" y="189.70" font-size="14.2" text-anchor="start" font-weight="bold" fill="#000" stroke="#000" stroke-width="0.28" >d</text>
<text x="29.60" y="198.60" font-size="9.7" text-anchor="start" font-weight="bold" fill="#000" stroke="#000" stroke-width="0.28" >IP: GPIbα</text>
<text x="56.30" y="212.60" font-size="9.9" text-anchor="start" font-weight="bold" fill="#000" stroke="#000" stroke-width="0.28" >IgG</text>
<text x="15.20" y="217.40" font-size="9.9" text-anchor="start" font-weight="bold" fill="#000" stroke="#000" stroke-width="0.28" >Blot:</text>
<text x="48.20" y="236.70" font-size="9.9" text-anchor="end" font-weight="bold" fill="#000" stroke="#000" stroke-width="0.28" >GPIbα</text>
<text x="48.80" y="283.20" font-size="9.9" text-anchor="end" font-weight="bold" fill="#000" stroke="#000" stroke-width="0.28" >β-actin</text>
<text x="147.20" y="215.60" font-size="9.9" text-anchor="start" font-weight="bold" fill="#000" stroke="#000" stroke-width="0.28" >kDa</text>
<text x="148.50" y="238.50" font-size="9.9" text-anchor="start" font-weight="bold" fill="#000" stroke="#000" stroke-width="0.28" >135</text>
<text x="150.40" y="282.50" font-size="9.9" text-anchor="start" font-weight="bold" fill="#000" stroke="#000" stroke-width="0.28" >42</text>
<line x1="142.00" y1="236.10" x2="146.00" y2="236.10" stroke="#000" stroke-width="1.0" />
<line x1="142.00" y1="280.80" x2="146.60" y2="280.80" stroke="#000" stroke-width="1.0" />
<line x1="28.90" y1="203.60" x2="52.20" y2="217.40" stroke="#000" stroke-width="0.95" />
<text x="96.10" y="216.30" font-size="9.9" text-anchor="start" font-weight="bold" font-style="italic" fill="#000" stroke="#000" stroke-width="0.28" transform="rotate(-56 96.10 216.30)" >Mical1<tspan font-size="6.93" dy="-3.37">+/+</tspan></text>
<text x="126.20" y="216.30" font-size="9.9" text-anchor="start" font-weight="bold" font-style="italic" fill="#000" stroke="#000" stroke-width="0.28" transform="rotate(-56 126.20 216.30)" >Mical1<tspan font-size="6.93" dy="-3.37">-/-</tspan></text>
<line x1="57.00" y1="297.20" x2="139.30" y2="297.20" stroke="#777" stroke-width="1.0" />
<text x="98.00" y="310.40" font-size="9.9" text-anchor="middle" font-weight="bold" fill="#000" stroke="#000" stroke-width="0.28" >VWF/Botro</text>
<g clip-path="url(#cl3)">
<rect x="52.10" y="217.40" width="89.80" height="35.10" fill="#fdfdfd"/>
<g filter="url(#gb18)">
<rect x="86.80" y="235.00" width="22.20" height="14.50" rx="0" fill="url(#g3)" opacity="1.0"/>
<rect x="87.20" y="238.20" width="21.40" height="2.80" rx="0" fill="#b8b8b8" opacity="0.8"/>
<rect x="116.00" y="236.00" width="22.80" height="13.50" rx="0" fill="url(#g4)" opacity="1.0"/>
<rect x="116.40" y="238.80" width="22.00" height="2.80" rx="0" fill="#a8a8a8" opacity="0.8"/>
</g>
<g filter="url(#gb13)">
<rect x="87.00" y="221.20" width="22.00" height="9.80" rx="2" fill="url(#g5)" opacity="1"/>
<rect x="86.60" y="229.60" width="22.80" height="5.60" rx="2.5" fill="#0e0e0e" opacity="1"/>
<ellipse cx="88.20" cy="229.00" rx="2.30" ry="6.80" fill="#0a0a0a" opacity="1.0"/>
<ellipse cx="107.60" cy="229.00" rx="2.30" ry="6.80" fill="#141414" opacity="1.0"/>
<rect x="116.00" y="220.60" width="22.80" height="9.40" rx="2" fill="url(#g6)" opacity="1"/>
<rect x="115.40" y="227.60" width="23.80" height="8.60" rx="3" fill="#000" opacity="1"/>
<ellipse cx="117.40" cy="228.80" rx="2.80" ry="7.80" fill="#000" opacity="1.0"/>
<ellipse cx="137.20" cy="228.80" rx="2.80" ry="7.80" fill="#000" opacity="1.0"/>
</g>
</g>
<rect x="52.10" y="217.40" width="89.80" height="35.10" fill="none" stroke="#000" stroke-width="1.1" />
<g clip-path="url(#cl4)">
<rect x="52.10" y="258.00" width="89.80" height="35.20" fill="#e8e8e8"/>
<g filter="url(#gb18)">
<rect x="86.00" y="260.00" width="23.00" height="33.00" rx="0" fill="#d8d8d8" opacity="0.7"/>
<rect x="114.50" y="260.00" width="25.00" height="33.00" rx="0" fill="#d6d6d6" opacity="0.7"/>
<rect x="86.50" y="275.50" width="22.00" height="9.00" rx="0" fill="#8c8c8c" opacity="1.0"/>
<rect x="86.20" y="275.20" width="4.00" height="9.60" rx="0" fill="#484848" opacity="0.85"/>
<rect x="104.50" y="275.50" width="4.10" height="9.00" rx="0" fill="#5a5a5a" opacity="0.8"/>
<rect x="115.00" y="275.00" width="24.00" height="10.20" rx="0" fill="#707070" opacity="1.0"/>
<rect x="114.60" y="274.80" width="4.60" height="10.60" rx="0" fill="#333" opacity="0.85"/>
<rect x="134.00" y="274.80" width="5.20" height="10.60" rx="0" fill="#3c3c3c" opacity="0.85"/>
</g>
<rect x="52.00" y="258.00" width="90.00" height="36.00" filter="url(#streak)" opacity="0.07"/>
<rect x="52.00" y="258.00" width="90.00" height="36.00" filter="url(#grain)" opacity="0.06"/>
</g>
<rect x="52.10" y="258.00" width="89.80" height="35.20" fill="none" stroke="#000" stroke-width="1.1" />
<text x="1.00" y="355.00" font-size="14.2" text-anchor="start" font-weight="bold" fill="#000" stroke="#000" stroke-width="0.28" >g</text>
<text x="32.30" y="354.30" font-size="9.7" text-anchor="start" font-weight="bold" fill="#000" stroke="#000" stroke-width="0.28" >IP: GPIbα</text>
<text x="36.60" y="376.30" font-size="9.9" text-anchor="start" font-weight="bold" fill="#000" stroke="#000" stroke-width="0.28" >Blot:</text>
<text x="65.20" y="393.30" font-size="9.9" text-anchor="end" font-weight="bold" fill="#000" stroke="#000" stroke-width="0.28" >GPIbα</text>
<text x="65.60" y="425.40" font-size="9.9" text-anchor="end" font-weight="bold" fill="#000" stroke="#000" stroke-width="0.28" >β-actin</text>
<text x="32.30" y="445.80" font-size="9.9" text-anchor="start" font-weight="bold" fill="#000" stroke="#000" stroke-width="0.28" >IB: soluble fraction before IP</text>
<text x="65.60" y="467.40" font-size="9.9" text-anchor="end" font-weight="bold" fill="#000" stroke="#000" stroke-width="0.28" >β-actin</text>
<text x="135.60" y="369.00" font-size="9.9" text-anchor="start" font-weight="bold" fill="#000" stroke="#000" stroke-width="0.28" >kDa</text>
<text x="135.00" y="394.30" font-size="9.9" text-anchor="start" font-weight="bold" fill="#000" stroke="#000" stroke-width="0.28" >135</text>
<text x="138.00" y="428.10" font-size="9.9" text-anchor="start" font-weight="bold" fill="#000" stroke="#000" stroke-width="0.28" >42</text>
<text x="138.00" y="466.60" font-size="9.9" text-anchor="start" font-weight="bold" fill="#000" stroke="#000" stroke-width="0.28" >42</text>
<line x1="129.60" y1="390.80" x2="133.20" y2="390.80" stroke="#000" stroke-width="1.0" />
<line x1="129.60" y1="424.70" x2="135.50" y2="424.70" stroke="#000" stroke-width="1.0" />
<line x1="129.60" y1="463.70" x2="135.50" y2="463.70" stroke="#000" stroke-width="1.0" />
<line x1="47.40" y1="361.20" x2="69.70" y2="374.30" stroke="#000" stroke-width="0.95" />
<text x="84.00" y="373.90" font-size="9.9" text-anchor="start" font-weight="bold" font-style="italic" fill="#000" stroke="#000" stroke-width="0.28" transform="rotate(-56 84.00 373.90)" >Mical1<tspan font-size="6.93" dy="-3.37">+/+</tspan></text>
<text x="114.80" y="369.00" font-size="9.9" text-anchor="start" font-weight="bold" font-style="italic" fill="#000" stroke="#000" stroke-width="0.28" transform="rotate(-56 114.80 369.00)" >Mical1<tspan font-size="6.93" dy="-3.37">-/-</tspan></text>
<g clip-path="url(#cl5)">
<rect x="69.60" y="374.30" width="60.00" height="28.70" fill="#b8b8b8"/>
<g filter="url(#gb18)">
<rect x="68.00" y="373.00" width="63.00" height="2.80" rx="0" fill="#4a4a4a" opacity="0.7"/>
<rect x="70.00" y="383.00" width="25.00" height="21.00" rx="0" fill="url(#g7)" opacity="1.0"/>
<rect x="69.50" y="385.50" width="5.00" height="16.00" rx="0" fill="#4c4c4c" opacity="0.85"/>
<rect x="95.00" y="377.00" width="11.00" height="27.00" rx="0" fill="#c9c9c9" opacity="0.95"/>
<rect x="106.00" y="377.00" width="24.00" height="27.00" rx="0" fill="url(#g8)" opacity="1.0"/>
<rect x="106.30" y="384.00" width="4.70" height="20.00" rx="0" fill="#2c2c2c" opacity="0.85"/>
<rect x="125.80" y="378.00" width="4.70" height="26.00" rx="0" fill="#080808" opacity="0.95"/>
<rect x="70.00" y="401.80" width="25.00" height="2.20" rx="0" fill="#555" opacity="0.6"/>
<rect x="106.00" y="401.80" width="24.00" height="2.20" rx="0" fill="#222" opacity="0.6"/>
</g>
<rect x="69.00" y="374.00" width="61.00" height="30.00" filter="url(#grain)" opacity="0.18"/>
</g>
<rect x="69.60" y="374.30" width="60.00" height="28.70" fill="none" stroke="#000" stroke-width="1.1" />
<g clip-path="url(#cl6)">
<rect x="69.60" y="408.10" width="60.00" height="28.00" fill="#f3f3f3"/>
<rect x="69.00" y="424.00" width="29.00" height="13.00" rx="0" fill="#e0e0e0" opacity="0.7" filter="url(#b3)"/>
<rect x="101.00" y="419.80" width="22.20" height="7.80" rx="3.80" fill="#000" opacity="1" filter="url(#b07)"/>
<ellipse cx="104.40" cy="423.70" rx="4.10" ry="5.30" fill="#000" opacity="1" filter="url(#b07)"/>
<ellipse cx="119.60" cy="423.70" rx="4.10" ry="5.30" fill="#000" opacity="1" filter="url(#b07)"/>
</g>
<rect x="69.60" y="408.10" width="60.00" height="28.00" fill="none" stroke="#000" stroke-width="1.1" />
<g clip-path="url(#cl7)">
<rect x="69.60" y="448.90" width="60.00" height="29.20" fill="#e9e9e9"/>
<rect x="73.30" y="461.40" width="21.90" height="5.90" rx="2.95" fill="#0c0c0c" opacity="0.97" filter="url(#b1)"/>
<rect x="100.80" y="459.40" width="25.70" height="6.50" rx="3.25" fill="#0c0c0c" opacity="0.97" filter="url(#b1)"/>
</g>
<rect x="69.60" y="448.90" width="60.00" height="29.20" fill="none" stroke="#000" stroke-width="1.1" />
<text x="283.00" y="355.00" font-size="14.2" text-anchor="start" font-weight="bold" fill="#000" stroke="#000" stroke-width="0.28" >h</text>
<text x="304.80" y="349.30" font-size="9.7" text-anchor="start" font-weight="bold" fill="#000" stroke="#000" stroke-width="0.28" >IP: GPIbα</text>
<text x="306.40" y="373.10" font-size="9.9" text-anchor="start" font-weight="bold" fill="#000" stroke="#000" stroke-width="0.28" >Blot:</text>
<text x="339.00" y="390.90" font-size="9.7" text-anchor="end" font-weight="bold" fill="#000" stroke="#000" stroke-width="0.28" >GPIbα</text>
<text x="339.40" y="425.50" font-size="9.9" text-anchor="end" font-weight="bold" fill="#000" stroke="#000" stroke-width="0.28" >β-actin</text>
<text x="315.70" y="446.90" font-size="9.9" text-anchor="start" font-weight="bold" fill="#000" stroke="#000" stroke-width="0.28" >LatA</text>
<text x="358.30" y="446.40" font-size="9.9" text-anchor="middle" font-weight="bold" fill="#000" stroke="#000" stroke-width="0.28" >-</text>
<text x="384.30" y="446.90" font-size="9.9" text-anchor="middle" font-weight="bold" fill="#000" stroke="#000" stroke-width="0.28" >+</text>
<text x="303.80" y="462.80" font-size="9.9" text-anchor="start" font-weight="bold" fill="#000" stroke="#000" stroke-width="0.28" >IB: soluble fraction before IP</text>
<text x="339.40" y="487.00" font-size="9.9" text-anchor="end" font-weight="bold" fill="#000" stroke="#000" stroke-width="0.28" >β-actin</text>
<text x="406.30" y="366.50" font-size="9.9" text-anchor="start" font-weight="bold" fill="#000" stroke="#000" stroke-width="0.28" >kDa</text>
<text x="406.00" y="397.50" font-size="9.9" text-anchor="start" font-weight="bold" fill="#000" stroke="#000" stroke-width="0.28" >135</text>
<text x="410.00" y="427.00" font-size="9.9" text-anchor="start" font-weight="bold" fill="#000" stroke="#000" stroke-width="0.28" >42</text>
<text x="410.00" y="487.70" font-size="9.9" text-anchor="start" font-weight="bold" fill="#000" stroke="#000" stroke-width="0.28" >42</text>
<line x1="401.50" y1="393.30" x2="405.00" y2="393.30" stroke="#000" stroke-width="1.0" />
<line x1="401.50" y1="423.00" x2="407.50" y2="423.00" stroke="#000" stroke-width="1.0" />
<line x1="401.50" y1="483.40" x2="407.50" y2="483.40" stroke="#000" stroke-width="1.0" />
<line x1="318.60" y1="356.20" x2="341.60" y2="369.90" stroke="#000" stroke-width="0.95" />
<text x="376.80" y="361.60" font-size="10.0" text-anchor="middle" font-weight="bold" font-style="italic" fill="#000" stroke="#000" stroke-width="0.28" >Mical1<tspan font-size="7.00" dy="-3.40">-/-</tspan></text>
<line x1="345.50" y1="366.30" x2="398.20" y2="366.30" stroke="#000" stroke-width="1.1" />
<g clip-path="url(#cl8)">
<rect x="341.40" y="369.80" width="60.20" height="31.60" fill="#f4f4f4"/>
<g filter="url(#gb13)">
<rect x="340.00" y="369.00" width="63.00" height="2.00" rx="0" fill="#555" opacity="0.7"/>
<rect x="352.00" y="377.00" width="15.60" height="17.00" rx="0" fill="#e4e4e4" opacity="1.0"/>
<rect x="349.00" y="393.50" width="22.00" height="8.50" rx="0" fill="#b4b4b4" opacity="0.9"/>
<rect x="348.20" y="381.00" width="4.00" height="20.00" rx="0" fill="url(#g9)" opacity="1.0"/>
<rect x="367.40" y="382.00" width="3.60" height="19.00" rx="0" fill="url(#g10)" opacity="1.0"/>
<rect x="379.40" y="382.00" width="12.80" height="20.00" rx="0" fill="url(#g11)" opacity="1.0"/>
<rect x="375.80" y="377.00" width="3.80" height="25.00" rx="0" fill="url(#g12)" opacity="1.0"/>
<rect x="391.80" y="375.50" width="5.70" height="26.50" rx="0" fill="url(#g13)" opacity="1.0"/>
</g>
<rect x="341.00" y="370.00" width="61.00" height="32.00" filter="url(#grain)" opacity="0.1"/>
</g>
<rect x="341.40" y="369.80" width="60.20" height="31.60" fill="none" stroke="#000" stroke-width="1.1" />
<g clip-path="url(#cl9)">
<rect x="341.40" y="406.10" width="60.20" height="29.80" fill="#bdbdbd"/>
<g filter="url(#gb1)">
<rect x="340.00" y="405.00" width="8.60" height="32.00" rx="0" fill="#e0e0e0" opacity="1.0"/>
<rect x="349.80" y="405.00" width="18.60" height="32.00" rx="0" fill="url(#g14)" opacity="1.0"/>
<rect x="349.80" y="405.00" width="3.60" height="32.00" rx="0" fill="#262626" opacity="0.9"/>
<rect x="364.80" y="405.00" width="3.60" height="32.00" rx="0" fill="url(#g15)" opacity="0.9"/>
<rect x="350.50" y="420.60" width="17.50" height="5.00" rx="0" fill="#6a6a6a" opacity="0.8"/>
<ellipse cx="351.9" cy="423.6" rx="2.0" ry="2.8" fill="#000"/>
<ellipse cx="366.6" cy="422.4" rx="1.8" ry="2.2" fill="#1a1a1a"/>
<rect x="369.20" y="405.00" width="5.00" height="32.00" rx="0" fill="#dcdcdc" opacity="1.0"/>
<rect x="374.40" y="405.00" width="21.60" height="32.00" rx="0" fill="#adadad" opacity="1.0"/>
<rect x="374.40" y="405.00" width="2.80" height="32.00" rx="0" fill="#8a8a8a" opacity="0.9"/>
<rect x="392.00" y="405.00" width="3.80" height="32.00" rx="0" fill="#606060" opacity="0.9"/>
<rect x="396.60" y="405.00" width="5.90" height="32.00" rx="0" fill="#dedede" opacity="1.0"/>
</g>
<rect x="341.00" y="405.00" width="61.00" height="32.00" filter="url(#streak)" opacity="0.1"/>
</g>
<rect x="341.40" y="406.10" width="60.20" height="29.80" fill="none" stroke="#000" stroke-width="1.1" />
<g clip-path="url(#cl10)">
<rect x="341.40" y="467.50" width="60.20" height="30.10" fill="#f6f6f6"/>
<path d="M346.5 477.9 L356 478.7 L366.5 481.2" stroke="#3a3a3a" stroke-width="2.9" fill="none" stroke-linecap="round" filter="url(#b1)" opacity="0.9"/>
<path d="M373 481.7 L385 482.5 L399 483.3" stroke="#0c0c0c" stroke-width="3.9" fill="none" stroke-linecap="round" filter="url(#b1)" opacity="0.97"/>
</g>
<rect x="341.40" y="467.50" width="60.20" height="30.10" fill="none" stroke="#000" stroke-width="1.1" />
<line x1="569.00" y1="124.85" x2="569.00" y2="15.74" stroke="#000" stroke-width="1.3" />
<line x1="564.90" y1="124.20" x2="569.00" y2="124.20" stroke="#000" stroke-width="1.3" />
<text x="562.90" y="126.63" font-size="8.1" text-anchor="end" font-weight="bold" fill="#000" stroke="#000" stroke-width="0.18" >0.0</text>
<line x1="564.90" y1="88.27" x2="569.00" y2="88.27" stroke="#000" stroke-width="1.3" />
<text x="562.90" y="90.69" font-size="8.1" text-anchor="end" font-weight="bold" fill="#000" stroke="#000" stroke-width="0.18" >0.5</text>
<line x1="564.90" y1="52.33" x2="569.00" y2="52.33" stroke="#000" stroke-width="1.3" />
<text x="562.90" y="54.76" font-size="8.1" text-anchor="end" font-weight="bold" fill="#000" stroke="#000" stroke-width="0.18" >1.0</text>
<line x1="564.90" y1="16.39" x2="569.00" y2="16.39" stroke="#000" stroke-width="1.3" />
<text x="562.90" y="18.82" font-size="8.1" text-anchor="end" font-weight="bold" fill="#000" stroke="#000" stroke-width="0.18" >1.5</text>
<line x1="566.60" y1="106.23" x2="569.00" y2="106.23" stroke="#000" stroke-width="1.3" />
<line x1="566.60" y1="70.30" x2="569.00" y2="70.30" stroke="#000" stroke-width="1.3" />
<line x1="566.60" y1="34.36" x2="569.00" y2="34.36" stroke="#000" stroke-width="1.3" />
<line x1="568.35" y1="124.20" x2="633.20" y2="124.20" stroke="#000" stroke-width="1.3" />
<rect x="574.60" y="52.33" width="20.60" height="71.87" fill="#fff" stroke="#000" stroke-width="1.05" />
<rect x="606.60" y="51.47" width="20.20" height="72.73" fill="#fb1d0c" stroke="#000" stroke-width="1.05" />
<line x1="616.70" y1="33.80" x2="616.70" y2="51.00" stroke="#1a1a1a" stroke-width="0.72" />
<line x1="611.45" y1="33.80" x2="621.95" y2="33.80" stroke="#1a1a1a" stroke-width="0.72" />
<circle cx="578.30" cy="52.33" r="1.7" fill="#000" />
<circle cx="582.60" cy="52.33" r="1.7" fill="#000" />
<circle cx="587.00" cy="52.33" r="1.7" fill="#000" />
<circle cx="591.50" cy="52.33" r="1.7" fill="#000" />
<circle cx="616.70" cy="31.40" r="1.7" fill="#000" />
<circle cx="616.70" cy="44.10" r="1.7" fill="#000" />
<circle cx="616.70" cy="56.60" r="1.7" fill="#000" />
<circle cx="616.70" cy="72.00" r="1.7" fill="#000" />
<path d="M584.70 24.90 V19.10 H616.70 V24.90" fill="none" stroke="#000" stroke-width="1.0" />
<text x="600.80" y="13.50" font-size="8.7" text-anchor="middle" font-weight="bold" fill="#000" stroke="#000" stroke-width="0.28" >ns</text>
<text x="563.40" y="136.30" font-size="9.0" text-anchor="start" font-weight="bold" font-style="italic" fill="#000" stroke="#000" stroke-width="0.28" >Mical1<tspan font-size="6.30" dy="-3.06">+/+</tspan><tspan dy="3.06" font-size="9.0">Mical1</tspan><tspan font-size="6.30" dy="-3.06">-/-</tspan></text>
<text x="546.90" y="69.20" font-size="10.0" text-anchor="middle" font-weight="bold" fill="#000" stroke="#000" stroke-width="0.28" transform="rotate(-90 546.90 69.20)" >β-actin / GPIb<tspan font-weight="normal" font-size="11.0">α</tspan></text>
<line x1="211.40" y1="298.95" x2="211.40" y2="189.55" stroke="#000" stroke-width="1.3" />
<line x1="207.30" y1="298.30" x2="211.40" y2="298.30" stroke="#000" stroke-width="1.3" />
<text x="205.30" y="300.73" font-size="8.1" text-anchor="end" font-weight="bold" fill="#000" stroke="#000" stroke-width="0.18" >0.0</text>
<line x1="207.30" y1="271.28" x2="211.40" y2="271.28" stroke="#000" stroke-width="1.3" />
<text x="205.30" y="273.71" font-size="8.1" text-anchor="end" font-weight="bold" fill="#000" stroke="#000" stroke-width="0.18" >0.5</text>
<line x1="207.30" y1="244.25" x2="211.40" y2="244.25" stroke="#000" stroke-width="1.3" />
<text x="205.30" y="246.68" font-size="8.1" text-anchor="end" font-weight="bold" fill="#000" stroke="#000" stroke-width="0.18" >1.0</text>
<line x1="207.30" y1="217.23" x2="211.40" y2="217.23" stroke="#000" stroke-width="1.3" />
<text x="205.30" y="219.66" font-size="8.1" text-anchor="end" font-weight="bold" fill="#000" stroke="#000" stroke-width="0.18" >1.5</text>
<line x1="207.30" y1="190.20" x2="211.40" y2="190.20" stroke="#000" stroke-width="1.3" />
<text x="205.30" y="192.63" font-size="8.1" text-anchor="end" font-weight="bold" fill="#000" stroke="#000" stroke-width="0.18" >2.0</text>
<line x1="209.00" y1="284.79" x2="211.40" y2="284.79" stroke="#000" stroke-width="1.3" />
<line x1="209.00" y1="257.76" x2="211.40" y2="257.76" stroke="#000" stroke-width="1.3" />
<line x1="209.00" y1="230.74" x2="211.40" y2="230.74" stroke="#000" stroke-width="1.3" />
<line x1="209.00" y1="203.71" x2="211.40" y2="203.71" stroke="#000" stroke-width="1.3" />
<line x1="210.75" y1="298.30" x2="275.20" y2="298.30" stroke="#000" stroke-width="1.3" />
<rect x="217.40" y="236.52" width="20.40" height="61.78" fill="#fff" stroke="#000" stroke-width="1.05" />
<rect x="249.20" y="227.06" width="20.30" height="71.24" fill="#fb1d0c" stroke="#000" stroke-width="1.05" />
<line x1="227.40" y1="222.40" x2="227.40" y2="236.52" stroke="#1a1a1a" stroke-width="0.72" />
<line x1="222.15" y1="222.40" x2="232.65" y2="222.40" stroke="#1a1a1a" stroke-width="0.72" />
<line x1="259.40" y1="215.20" x2="259.40" y2="227.06" stroke="#1a1a1a" stroke-width="0.72" />
<line x1="254.15" y1="215.20" x2="264.65" y2="215.20" stroke="#1a1a1a" stroke-width="0.72" />
<circle cx="227.40" cy="223.00" r="1.7" fill="#000" />
<circle cx="227.40" cy="234.50" r="1.7" fill="#000" />
<circle cx="227.40" cy="249.40" r="1.7" fill="#000" />
<circle cx="259.40" cy="214.40" r="1.7" fill="#000" />
<circle cx="259.40" cy="231.60" r="1.7" fill="#000" />
<circle cx="259.40" cy="234.00" r="1.7" fill="#000" />
<path d="M227.20 207.80 V201.50 H259.50 V207.80" fill="none" stroke="#000" stroke-width="1.0" />
<text x="243.30" y="196.10" font-size="8.7" text-anchor="middle" font-weight="bold" fill="#000" stroke="#000" stroke-width="0.28" >ns</text>
<text x="207.70" y="310.10" font-size="9.0" text-anchor="start" font-weight="bold" font-style="italic" fill="#000" stroke="#000" stroke-width="0.28" >Mical1<tspan font-size="6.30" dy="-3.06">+/+</tspan><tspan dy="3.06" font-size="9.0">Mical1</tspan><tspan font-size="6.30" dy="-3.06">-/-</tspan></text>
<text x="189.50" y="243.80" font-size="9.8" text-anchor="middle" font-weight="bold" fill="#000" stroke="#000" stroke-width="0.28" transform="rotate(-90 189.50 243.80)" >β-actin / GPIbα</text>
<line x1="195.60" y1="470.85" x2="195.60" y2="362.15" stroke="#000" stroke-width="1.3" />
<line x1="191.50" y1="470.20" x2="195.60" y2="470.20" stroke="#000" stroke-width="1.3" />
<text x="189.50" y="472.63" font-size="8.1" text-anchor="end" font-weight="bold" fill="#000" stroke="#000" stroke-width="0.18" >0</text>
<line x1="191.50" y1="434.40" x2="195.60" y2="434.40" stroke="#000" stroke-width="1.3" />
<text x="189.50" y="436.83" font-size="8.1" text-anchor="end" font-weight="bold" fill="#000" stroke="#000" stroke-width="0.18" >2</text>
<line x1="191.50" y1="398.60" x2="195.60" y2="398.60" stroke="#000" stroke-width="1.3" />
<text x="189.50" y="401.03" font-size="8.1" text-anchor="end" font-weight="bold" fill="#000" stroke="#000" stroke-width="0.18" >4</text>
<line x1="191.50" y1="362.80" x2="195.60" y2="362.80" stroke="#000" stroke-width="1.3" />
<text x="189.50" y="365.23" font-size="8.1" text-anchor="end" font-weight="bold" fill="#000" stroke="#000" stroke-width="0.18" >6</text>
<line x1="193.20" y1="452.30" x2="195.60" y2="452.30" stroke="#000" stroke-width="1.3" />
<line x1="193.20" y1="416.50" x2="195.60" y2="416.50" stroke="#000" stroke-width="1.3" />
<line x1="193.20" y1="380.70" x2="195.60" y2="380.70" stroke="#000" stroke-width="1.3" />
<line x1="194.95" y1="470.20" x2="259.90" y2="470.20" stroke="#000" stroke-width="1.3" />
<rect x="201.70" y="458.30" width="20.50" height="11.90" fill="#fff" stroke="#000" stroke-width="1.05" />
<rect x="233.50" y="419.54" width="20.30" height="50.66" fill="#fb1d0c" stroke="#000" stroke-width="1.05" />
<line x1="211.80" y1="453.30" x2="211.80" y2="458.30" stroke="#1a1a1a" stroke-width="0.72" />
<line x1="206.40" y1="453.30" x2="217.20" y2="453.30" stroke="#1a1a1a" stroke-width="0.72" />
<line x1="243.60" y1="393.30" x2="243.60" y2="419.54" stroke="#1a1a1a" stroke-width="0.72" />
<line x1="238.20" y1="393.30" x2="249.00" y2="393.30" stroke="#1a1a1a" stroke-width="0.72" />
<circle cx="211.80" cy="453.60" r="1.7" fill="#000" />
<circle cx="211.80" cy="458.00" r="1.7" fill="#000" />
<circle cx="211.80" cy="460.80" r="1.7" fill="#000" />
<circle cx="243.60" cy="395.00" r="1.7" fill="#000" />
<circle cx="243.60" cy="416.40" r="1.7" fill="#000" />
<circle cx="243.60" cy="445.20" r="1.7" fill="#000" />
<path d="M211.70 387.00 V381.10 H243.60 V387.00" fill="none" stroke="#000" stroke-width="1.0" />
<text x="227.40" y="375.70" font-size="8.7" text-anchor="middle" font-weight="bold" fill="#000" stroke="#000" stroke-width="0.28" >p = 0.01</text>
<text x="189.60" y="482.00" font-size="9.0" text-anchor="start" font-weight="bold" font-style="italic" fill="#000" stroke="#000" stroke-width="0.28" >Mical1<tspan font-size="6.30" dy="-3.06">+/+</tspan><tspan dy="3.06" font-size="9.0">Mical1</tspan><tspan font-size="6.30" dy="-3.06">-/-</tspan></text>
<text x="180.20" y="414.10" font-size="10.0" text-anchor="middle" font-weight="bold" fill="#000" stroke="#000" stroke-width="0.28" transform="rotate(-90 180.20 414.10)" >β-actin / GPIb<tspan font-weight="normal" font-size="11.0">α</tspan></text>
<line x1="469.30" y1="470.85" x2="469.30" y2="362.15" stroke="#000" stroke-width="1.3" />
<line x1="465.20" y1="470.20" x2="469.30" y2="470.20" stroke="#000" stroke-width="1.3" />
<text x="463.20" y="472.63" font-size="8.1" text-anchor="end" font-weight="bold" fill="#000" stroke="#000" stroke-width="0.18" >0</text>
<line x1="465.20" y1="434.40" x2="469.30" y2="434.40" stroke="#000" stroke-width="1.3" />
<text x="463.20" y="436.83" font-size="8.1" text-anchor="end" font-weight="bold" fill="#000" stroke="#000" stroke-width="0.18" >1</text>
<line x1="465.20" y1="398.60" x2="469.30" y2="398.60" stroke="#000" stroke-width="1.3" />
<text x="463.20" y="401.03" font-size="8.1" text-anchor="end" font-weight="bold" fill="#000" stroke="#000" stroke-width="0.18" >2</text>
<line x1="465.20" y1="362.80" x2="469.30" y2="362.80" stroke="#000" stroke-width="1.3" />
<text x="463.20" y="365.23" font-size="8.1" text-anchor="end" font-weight="bold" fill="#000" stroke="#000" stroke-width="0.18" >3</text>
<line x1="468.65" y1="470.20" x2="533.20" y2="470.20" stroke="#000" stroke-width="1.3" />
<rect x="475.20" y="409.34" width="20.50" height="60.86" fill="#fb1d0c" stroke="#000" stroke-width="1.05" />
<rect x="507.00" y="430.46" width="20.40" height="39.74" fill="url(#hatch)" stroke="#000" stroke-width="1.05" />
<line x1="485.40" y1="383.50" x2="485.40" y2="409.34" stroke="#1a1a1a" stroke-width="0.72" />
<line x1="480.10" y1="383.50" x2="490.70" y2="383.50" stroke="#1a1a1a" stroke-width="0.72" />
<line x1="517.20" y1="412.40" x2="517.20" y2="430.46" stroke="#1a1a1a" stroke-width="0.72" />
<line x1="511.90" y1="412.40" x2="522.50" y2="412.40" stroke="#1a1a1a" stroke-width="0.72" />
<circle cx="485.40" cy="380.50" r="1.7" fill="#000" />
<circle cx="485.40" cy="415.40" r="1.7" fill="#000" />
<circle cx="485.40" cy="429.90" r="1.7" fill="#000" />
<circle cx="517.00" cy="409.60" r="1.7" fill="#000" />
<circle cx="513.90" cy="440.10" r="1.7" fill="#000" />
<circle cx="520.70" cy="438.40" r="1.7" fill="#000" />
<path d="M485.30 374.00 V367.70 H517.30 V374.00" fill="none" stroke="#000" stroke-width="1.0" />
<text x="501.20" y="363.00" font-size="8.7" text-anchor="middle" font-weight="bold" fill="#000" stroke="#000" stroke-width="0.28" >p = 0.03</text>
<text x="444.00" y="484.60" font-size="9.0" text-anchor="start" font-weight="bold" fill="#000" stroke="#000" stroke-width="0.28" >LatA</text>
<text x="485.50" y="484.00" font-size="9.0" text-anchor="middle" font-weight="bold" fill="#000" stroke="#000" stroke-width="0.28" >-</text>
<text x="517.20" y="484.60" font-size="9.0" text-anchor="middle" font-weight="bold" fill="#000" stroke="#000" stroke-width="0.28" >+</text>
<line x1="471.70" y1="486.20" x2="528.80" y2="486.20" stroke="#000" stroke-width="1.0" />
<text x="502.40" y="496.60" font-size="9.0" text-anchor="middle" font-weight="bold" font-style="italic" fill="#000" stroke="#000" stroke-width="0.28" >Mical1<tspan font-size="6.30" dy="-3.06">-/-</tspan></text>
<text x="453.70" y="415.00" font-size="10.0" text-anchor="middle" font-weight="bold" fill="#000" stroke="#000" stroke-width="0.28" transform="rotate(-90 453.70 415.00)" >β-actin / GPIb<tspan font-weight="normal" font-size="11.0">α</tspan></text>
<text x="542.00" y="360.60" font-size="14.2" text-anchor="start" font-weight="bold" fill="#000" stroke="#000" stroke-width="0.28" >i</text>
<text x="299.00" y="189.50" font-size="14.2" text-anchor="start" font-weight="bold" fill="#000" stroke="#000" stroke-width="0.28" >e</text>
<line x1="363.00" y1="298.95" x2="363.00" y2="190.99" stroke="#000" stroke-width="1.3" />
<line x1="358.90" y1="298.30" x2="363.00" y2="298.30" stroke="#000" stroke-width="1.3" />
<text x="356.90" y="300.73" font-size="8.1" text-anchor="end" font-weight="bold" fill="#000" stroke="#000" stroke-width="0.18" >0</text>
<line x1="358.90" y1="271.63" x2="363.00" y2="271.63" stroke="#000" stroke-width="1.3" />
<text x="356.90" y="274.06" font-size="8.1" text-anchor="end" font-weight="bold" fill="#000" stroke="#000" stroke-width="0.18" >50</text>
<line x1="358.90" y1="244.97" x2="363.00" y2="244.97" stroke="#000" stroke-width="1.3" />
<text x="356.90" y="247.40" font-size="8.1" text-anchor="end" font-weight="bold" fill="#000" stroke="#000" stroke-width="0.18" >100</text>
<line x1="358.90" y1="218.31" x2="363.00" y2="218.31" stroke="#000" stroke-width="1.3" />
<text x="356.90" y="220.74" font-size="8.1" text-anchor="end" font-weight="bold" fill="#000" stroke="#000" stroke-width="0.18" >150</text>
<line x1="358.90" y1="191.64" x2="363.00" y2="191.64" stroke="#000" stroke-width="1.3" />
<text x="356.90" y="194.07" font-size="8.1" text-anchor="end" font-weight="bold" fill="#000" stroke="#000" stroke-width="0.18" >200</text>
<line x1="362.35" y1="298.30" x2="433.60" y2="298.30" stroke="#000" stroke-width="1.3" />
<path d="M381.40 292.49 C381.50 292.32 381.78 292.29 382.00 291.47 C382.22 290.66 382.15 289.05 382.70 287.58 C383.25 286.11 384.23 284.29 385.30 282.67 C386.37 281.06 388.07 279.32 389.10 277.87 C390.13 276.43 391.07 275.18 391.50 273.98 C391.93 272.78 392.00 271.97 391.70 270.68 C391.40 269.38 390.55 267.74 389.70 266.20 C388.85 264.65 387.57 263.01 386.60 261.40 C385.63 259.78 384.58 258.12 383.90 256.49 C383.22 254.85 382.80 253.68 382.50 251.58 C382.20 249.49 382.18 246.80 382.10 243.90 C382.02 241.01 381.97 238.10 382.00 234.20 C382.03 230.30 382.25 224.06 382.30 220.49 C382.35 216.93 382.30 214.09 382.30 212.81 L378.50 212.81 C378.50 214.09 378.45 216.93 378.50 220.49 C378.55 224.06 378.77 230.30 378.80 234.20 C378.83 238.10 378.78 241.01 378.70 243.90 C378.62 246.80 378.60 249.49 378.30 251.58 C378.00 253.68 377.58 254.85 376.90 256.49 C376.22 258.12 375.17 259.78 374.20 261.40 C373.23 263.01 371.95 264.65 371.10 266.20 C370.25 267.74 369.40 269.38 369.10 270.68 C368.80 271.97 368.87 272.78 369.30 273.98 C369.73 275.18 370.67 276.43 371.70 277.87 C372.73 279.32 374.43 281.06 375.50 282.67 C376.57 284.29 377.55 286.11 378.10 287.58 C378.65 289.05 378.58 290.66 378.80 291.47 C379.02 292.29 379.30 292.32 379.40 292.49 Z" fill="#fff" stroke="#000" stroke-width="1.1" stroke-linejoin="round"/>
<line x1="369.10" y1="270.68" x2="391.70" y2="270.68" stroke="#000" stroke-width="1.0" />
<line x1="371.66" y1="274.57" x2="389.14" y2="274.57" stroke="#000" stroke-width="0.85" stroke-dasharray="1.1 2.1"/>
<path d="M420.90 296.70 C421.32 296.49 422.53 296.12 423.40 295.42 C424.27 294.72 425.45 293.62 426.10 292.49 C426.75 291.35 427.10 289.89 427.30 288.59 C427.50 287.30 427.40 285.83 427.30 284.70 C427.20 283.57 427.07 282.96 426.70 281.82 C426.33 280.68 425.92 279.18 425.10 277.87 C424.28 276.57 422.87 275.28 421.80 273.98 C420.73 272.68 419.38 271.39 418.70 270.09 C418.02 268.79 417.73 267.32 417.70 266.20 C417.67 265.07 418.47 264.28 418.50 263.32 C418.53 262.35 418.03 261.52 417.90 260.38 C417.77 259.24 417.53 257.79 417.70 256.49 C417.87 255.19 418.60 253.73 418.90 252.60 C419.20 251.47 419.53 250.75 419.50 249.72 C419.47 248.69 418.83 246.96 418.70 246.41 L413.30 246.41 C413.17 246.96 412.53 248.69 412.50 249.72 C412.47 250.75 412.80 251.47 413.10 252.60 C413.40 253.73 414.13 255.19 414.30 256.49 C414.47 257.79 414.23 259.24 414.10 260.38 C413.97 261.52 413.47 262.35 413.50 263.32 C413.53 264.28 414.33 265.07 414.30 266.20 C414.27 267.32 413.98 268.79 413.30 270.09 C412.62 271.39 411.27 272.68 410.20 273.98 C409.13 275.28 407.72 276.57 406.90 277.87 C406.08 279.18 405.67 280.68 405.30 281.82 C404.93 282.96 404.80 283.57 404.70 284.70 C404.60 285.83 404.50 287.30 404.70 288.59 C404.90 289.89 405.25 291.35 405.90 292.49 C406.55 293.62 407.73 294.72 408.60 295.42 C409.47 296.12 410.68 296.49 411.10 296.70 Z" fill="#fb1d0c" stroke="#000" stroke-width="1.1" stroke-linejoin="round"/>
<line x1="404.70" y1="284.70" x2="427.30" y2="284.70" stroke="#000" stroke-width="1.0" />
<line x1="411.02" y1="275.37" x2="420.98" y2="275.37" stroke="#000" stroke-width="0.85" stroke-dasharray="1.1 2.1"/>
<line x1="407.29" y1="290.51" x2="424.71" y2="290.51" stroke="#000" stroke-width="0.85" stroke-dasharray="1.1 2.1"/>
<path d="M380.40 206.30 V200.40 H416.00 V206.30" fill="none" stroke="#000" stroke-width="1.0" />
<text x="398.20" y="194.80" font-size="8.75" text-anchor="middle" font-weight="bold" fill="#000" stroke="#000" stroke-width="0.28" >p = 0.0003</text>
<text x="380.60" y="311.20" font-size="8.3" text-anchor="middle" font-weight="bold" font-style="italic" fill="#000" stroke="#000" stroke-width="0.28" >Mical1<tspan font-size="5.81" dy="-2.82">+/+</tspan></text>
<text x="416.20" y="311.20" font-size="8.3" text-anchor="middle" font-weight="bold" font-style="italic" fill="#000" stroke="#000" stroke-width="0.28" >Mical1<tspan font-size="5.81" dy="-2.82">-/-</tspan></text>
<text x="325.80" y="244.70" font-size="9.6" text-anchor="middle" font-weight="bold" fill="#000" stroke="#000" stroke-width="0.28" transform="rotate(-90 325.80 244.70)" >Number of</text>
<text x="337.50" y="244.70" font-size="9.6" text-anchor="middle" font-weight="bold" fill="#000" stroke="#000" stroke-width="0.28" transform="rotate(-90 337.50 244.70)" >rolling platelets / field</text>
<text x="480.10" y="189.10" font-size="14.2" text-anchor="start" font-weight="bold" fill="#000" stroke="#000" stroke-width="0.28" >f</text>
<rect x="496.50" y="190.70" width="34.30" height="106.60" fill="#000" stroke="none" stroke-width="1" />
<rect x="533.30" y="190.70" width="34.70" height="106.60" fill="#101010" stroke="none" stroke-width="1" />
<rect x="541" y="190.7" width="18" height="106.6" fill="#fff" opacity="0.05" filter="url(#b3)"/>
<rect x="533.3" y="190.7" width="34.7" height="106.6" filter="url(#spark)" opacity="0.4"/>
<rect x="499.20" y="193.20" width="28.80" height="2.50" fill="#fff" stroke="none" stroke-width="1" />
<text x="513.50" y="203.90" font-size="7.7" text-anchor="middle" font-weight="bold" fill="#fff" stroke="#fff" stroke-width="0.2" >10 µm</text>
<ellipse cx="513.1" cy="268.3" rx="2.1" ry="2.8" fill="#fff" filter="url(#b07)"/>
<ellipse cx="514.7" cy="286.6" rx="2.1" ry="2.8" fill="#fff" filter="url(#b07)"/>
<path d="M515.8 283.8 V278" stroke="#fff" stroke-width="1.5"/>
<path d="M515.8 271.8 L518.9 279.2 H512.7 Z" fill="#fff"/>
<circle cx="548.3" cy="203.0" r="3.6" fill="#fff" opacity="0.35" filter="url(#b1)"/>
<circle cx="552.2" cy="292.2" r="3.6" fill="#fff" opacity="0.35" filter="url(#b1)"/>
<circle cx="548.3" cy="203.0" r="2.7" fill="#fff" filter="url(#b07)"/>
<circle cx="552.2" cy="292.2" r="2.7" fill="#fff" filter="url(#b07)"/>
<path d="M549.2 285.8 V220" stroke="#fff" stroke-width="1.7"/>
<path d="M549.2 212.2 L553.3 221.8 H545.1 Z" fill="#fff"/>
<text x="492.00" y="244.60" font-size="10.1" text-anchor="middle" font-weight="bold" fill="#000" stroke="#000" stroke-width="0.28" transform="rotate(-90 492.00 244.60)" >1,500 s<tspan font-size="6.8" dy="-3.8">-1</tspan></text>
<text x="494.80" y="311.50" font-size="10.05" text-anchor="start" font-weight="bold" font-style="italic" fill="#000" stroke="#000" stroke-width="0.28" >Mical1<tspan font-size="7.04" dy="-3.42">+/+</tspan><tspan dy="3.42" font-size="10.05">Mical1</tspan><tspan font-size="7.04" dy="-3.42">-/-</tspan></text>
<line x1="602.40" y1="298.65" x2="602.40" y2="189.83" stroke="#000" stroke-width="1.3" />
<line x1="598.30" y1="298.00" x2="602.40" y2="298.00" stroke="#000" stroke-width="1.3" />
<text x="596.30" y="300.43" font-size="8.1" text-anchor="end" font-weight="bold" fill="#000" stroke="#000" stroke-width="0.18" >0</text>
<line x1="598.30" y1="262.16" x2="602.40" y2="262.16" stroke="#000" stroke-width="1.3" />
<text x="596.30" y="264.59" font-size="8.1" text-anchor="end" font-weight="bold" fill="#000" stroke="#000" stroke-width="0.18" >2</text>
<line x1="598.30" y1="226.32" x2="602.40" y2="226.32" stroke="#000" stroke-width="1.3" />
<text x="596.30" y="228.75" font-size="8.1" text-anchor="end" font-weight="bold" fill="#000" stroke="#000" stroke-width="0.18" >4</text>
<line x1="598.30" y1="190.48" x2="602.40" y2="190.48" stroke="#000" stroke-width="1.3" />
<text x="596.30" y="192.91" font-size="8.1" text-anchor="end" font-weight="bold" fill="#000" stroke="#000" stroke-width="0.18" >6</text>
<line x1="600.00" y1="280.08" x2="602.40" y2="280.08" stroke="#000" stroke-width="1.3" />
<line x1="600.00" y1="244.24" x2="602.40" y2="244.24" stroke="#000" stroke-width="1.3" />
<line x1="600.00" y1="208.40" x2="602.40" y2="208.40" stroke="#000" stroke-width="1.3" />
<line x1="601.75" y1="298.00" x2="666.00" y2="298.00" stroke="#000" stroke-width="1.3" />
<path d="M619.00 298.00 C619.13 297.79 619.45 297.40 619.80 296.75 C620.15 296.09 620.52 295.22 621.10 294.06 C621.68 292.89 622.65 291.22 623.30 289.76 C623.95 288.29 624.57 286.74 625.00 285.28 C625.43 283.81 625.82 282.44 625.90 280.98 C625.98 279.51 625.83 277.97 625.50 276.50 C625.17 275.02 624.38 273.57 623.90 272.11 C623.42 270.64 622.88 269.55 622.60 267.72 C622.32 265.88 622.45 263.29 622.20 261.08 C621.95 258.87 621.43 256.66 621.10 254.45 C620.77 252.24 620.53 250.00 620.20 247.82 C619.87 245.64 619.39 244.30 619.10 241.37 C618.81 238.45 618.60 233.97 618.45 230.26 C618.30 226.56 618.24 221.00 618.20 219.15 L617.80 219.15 C617.76 221.00 617.70 226.56 617.55 230.26 C617.40 233.97 617.19 238.45 616.90 241.37 C616.61 244.30 616.13 245.64 615.80 247.82 C615.47 250.00 615.23 252.24 614.90 254.45 C614.57 256.66 614.05 258.87 613.80 261.08 C613.55 263.29 613.68 265.88 613.40 267.72 C613.12 269.55 612.58 270.64 612.10 272.11 C611.62 273.57 610.83 275.02 610.50 276.50 C610.17 277.97 610.02 279.51 610.10 280.98 C610.18 282.44 610.57 283.81 611.00 285.28 C611.43 286.74 612.05 288.29 612.70 289.76 C613.35 291.22 614.32 292.89 614.90 294.06 C615.48 295.22 615.85 296.09 616.20 296.75 C616.55 297.40 616.87 297.79 617.00 298.00 Z" fill="#fff" stroke="#000" stroke-width="1.1" stroke-linejoin="round"/>
<line x1="610.50" y1="276.50" x2="625.50" y2="276.50" stroke="#000" stroke-width="1.0" />
<line x1="615.77" y1="261.62" x2="620.23" y2="261.62" stroke="#000" stroke-width="0.85" stroke-dasharray="1.1 2.1"/>
<line x1="612.77" y1="284.20" x2="623.23" y2="284.20" stroke="#000" stroke-width="0.85" stroke-dasharray="1.1 2.1"/>
<path d="M649.80 292.98 C649.98 292.44 650.50 291.04 650.90 289.76 C651.30 288.47 651.68 286.95 652.20 285.28 C652.72 283.60 653.40 281.54 654.00 279.72 C654.60 277.90 655.37 276.17 655.80 274.35 C656.23 272.52 656.50 270.52 656.60 268.79 C656.70 267.06 656.47 265.59 656.40 263.95 C656.33 262.31 656.38 260.70 656.20 258.93 C656.02 257.17 655.70 255.23 655.30 253.38 C654.90 251.53 654.23 249.65 653.80 247.82 C653.37 246.00 652.85 243.91 652.70 242.45 C652.55 240.98 652.72 240.36 652.90 239.04 C653.08 237.73 653.73 236.03 653.80 234.56 C653.87 233.10 653.67 232.08 653.30 230.26 C652.93 228.44 652.11 226.20 651.60 223.63 C651.09 221.06 650.56 218.17 650.26 214.85 C649.96 211.54 649.88 205.59 649.80 203.74 L649.40 203.74 C649.32 205.59 649.24 211.54 648.94 214.85 C648.64 218.17 648.11 221.06 647.60 223.63 C647.09 226.20 646.27 228.44 645.90 230.26 C645.53 232.08 645.33 233.10 645.40 234.56 C645.47 236.03 646.12 237.73 646.30 239.04 C646.48 240.36 646.65 240.98 646.50 242.45 C646.35 243.91 645.83 246.00 645.40 247.82 C644.97 249.65 644.30 251.53 643.90 253.38 C643.50 255.23 643.18 257.17 643.00 258.93 C642.82 260.70 642.87 262.31 642.80 263.95 C642.73 265.59 642.50 267.06 642.60 268.79 C642.70 270.52 642.97 272.52 643.40 274.35 C643.83 276.17 644.60 277.90 645.20 279.72 C645.80 281.54 646.48 283.60 647.00 285.28 C647.52 286.95 647.90 288.47 648.30 289.76 C648.70 291.04 649.22 292.44 649.40 292.98 Z" fill="#fb1d0c" stroke="#000" stroke-width="1.1" stroke-linejoin="round"/>
<line x1="642.80" y1="263.95" x2="656.40" y2="263.95" stroke="#000" stroke-width="1.0" />
<line x1="647.25" y1="248.36" x2="651.95" y2="248.36" stroke="#000" stroke-width="0.85" stroke-dasharray="1.1 2.1"/>
<line x1="645.76" y1="275.42" x2="653.44" y2="275.42" stroke="#000" stroke-width="0.85" stroke-dasharray="1.1 2.1"/>
<path d="M618.10 197.60 V192.10 H649.60 V197.60" fill="none" stroke="#000" stroke-width="1.0" />
<text x="633.50" y="186.40" font-size="8.72" text-anchor="middle" font-weight="bold" fill="#000" stroke="#000" stroke-width="0.28" >p = 0.0000001</text>
<text x="598.50" y="309.50" font-size="9.0" text-anchor="start" font-weight="bold" font-style="italic" fill="#000" stroke="#000" stroke-width="0.28" >Mical1<tspan font-size="6.30" dy="-3.06">+/+</tspan><tspan dy="3.06" font-size="9.0">Mical1</tspan><tspan font-size="6.30" dy="-3.06">-/-</tspan></text>
<text x="586.30" y="244.30" font-size="9.55" text-anchor="middle" font-weight="bold" fill="#000" stroke="#000" stroke-width="0.28" transform="rotate(-90 586.30 244.30)" >Rolling velocity (µm/s)</text>
<line x1="587.70" y1="470.85" x2="587.70" y2="362.19" stroke="#000" stroke-width="1.3" />
<line x1="583.60" y1="470.20" x2="587.70" y2="470.20" stroke="#000" stroke-width="1.3" />
<text x="581.60" y="472.63" font-size="8.1" text-anchor="end" font-weight="bold" fill="#000" stroke="#000" stroke-width="0.18" >0</text>
<line x1="583.60" y1="443.36" x2="587.70" y2="443.36" stroke="#000" stroke-width="1.3" />
<text x="581.60" y="445.79" font-size="8.1" text-anchor="end" font-weight="bold" fill="#000" stroke="#000" stroke-width="0.18" >2</text>
<line x1="583.60" y1="416.52" x2="587.70" y2="416.52" stroke="#000" stroke-width="1.3" />
<text x="581.60" y="418.95" font-size="8.1" text-anchor="end" font-weight="bold" fill="#000" stroke="#000" stroke-width="0.18" >4</text>
<line x1="583.60" y1="389.68" x2="587.70" y2="389.68" stroke="#000" stroke-width="1.3" />
<text x="581.60" y="392.11" font-size="8.1" text-anchor="end" font-weight="bold" fill="#000" stroke="#000" stroke-width="0.18" >6</text>
<line x1="583.60" y1="362.84" x2="587.70" y2="362.84" stroke="#000" stroke-width="1.3" />
<text x="581.60" y="365.27" font-size="8.1" text-anchor="end" font-weight="bold" fill="#000" stroke="#000" stroke-width="0.18" >8</text>
<line x1="585.30" y1="456.78" x2="587.70" y2="456.78" stroke="#000" stroke-width="1.3" />
<line x1="585.30" y1="429.94" x2="587.70" y2="429.94" stroke="#000" stroke-width="1.3" />
<line x1="585.30" y1="403.10" x2="587.70" y2="403.10" stroke="#000" stroke-width="1.3" />
<line x1="585.30" y1="376.26" x2="587.70" y2="376.26" stroke="#000" stroke-width="1.3" />
<line x1="587.05" y1="470.20" x2="683.80" y2="470.20" stroke="#000" stroke-width="1.3" />
<path d="M603.20 470.20 C603.47 470.04 604.18 469.89 604.80 469.26 C605.42 468.63 606.37 467.49 606.90 466.44 C607.43 465.39 607.78 464.14 608.00 462.95 C608.22 461.77 608.02 460.54 608.20 459.33 C608.38 458.12 608.88 456.98 609.10 455.71 C609.32 454.43 609.58 453.04 609.50 451.68 C609.42 450.32 609.03 448.97 608.60 447.52 C608.17 446.07 607.38 444.61 606.90 442.96 C606.42 441.30 606.03 439.38 605.70 437.59 C605.37 435.80 605.15 434.32 604.90 432.22 C604.65 430.12 604.47 427.37 604.20 424.97 C603.93 422.58 603.51 420.41 603.30 417.86 C603.09 415.31 603.01 411.04 602.95 409.68 L602.25 409.68 C602.19 411.04 602.11 415.31 601.90 417.86 C601.69 420.41 601.27 422.58 601.00 424.97 C600.73 427.37 600.55 430.12 600.30 432.22 C600.05 434.32 599.83 435.80 599.50 437.59 C599.17 439.38 598.78 441.30 598.30 442.96 C597.82 444.61 597.03 446.07 596.60 447.52 C596.17 448.97 595.78 450.32 595.70 451.68 C595.62 453.04 595.88 454.43 596.10 455.71 C596.32 456.98 596.82 458.12 597.00 459.33 C597.18 460.54 596.98 461.77 597.20 462.95 C597.42 464.14 597.77 465.39 598.30 466.44 C598.83 467.49 599.78 468.63 600.40 469.26 C601.02 469.89 601.73 470.04 602.00 470.20 Z" fill="#fff" stroke="#000" stroke-width="1.0" stroke-linejoin="round"/>
<line x1="595.70" y1="451.68" x2="609.50" y2="451.68" stroke="#000" stroke-width="1.0" />
<line x1="600.36" y1="442.69" x2="604.84" y2="442.69" stroke="#000" stroke-width="0.85" stroke-dasharray="1.1 2.1"/>
<line x1="599.00" y1="459.33" x2="606.20" y2="459.33" stroke="#000" stroke-width="0.85" stroke-dasharray="1.1 2.1"/>
<path d="M625.40 468.32 C625.65 468.08 626.35 467.61 626.90 466.84 C627.45 466.08 628.02 464.88 628.70 463.76 C629.38 462.64 630.55 461.19 631.00 460.13 C631.45 459.08 631.58 458.35 631.40 457.45 C631.22 456.56 630.33 455.82 629.90 454.77 C629.47 453.72 629.17 452.51 628.80 451.14 C628.43 449.78 628.00 448.24 627.70 446.58 C627.40 444.93 627.27 443.32 627.00 441.21 C626.73 439.11 626.37 436.36 626.10 433.97 C625.83 431.57 625.61 429.54 625.40 426.85 C625.19 424.17 624.94 419.36 624.85 417.86 L624.15 417.86 C624.06 419.36 623.81 424.17 623.60 426.85 C623.39 429.54 623.17 431.57 622.90 433.97 C622.63 436.36 622.27 439.11 622.00 441.21 C621.73 443.32 621.60 444.93 621.30 446.58 C621.00 448.24 620.57 449.78 620.20 451.14 C619.83 452.51 619.53 453.72 619.10 454.77 C618.67 455.82 617.78 456.56 617.60 457.45 C617.42 458.35 617.55 459.08 618.00 460.13 C618.45 461.19 619.62 462.64 620.30 463.76 C620.98 464.88 621.55 466.08 622.10 466.84 C622.65 467.61 623.35 468.08 623.60 468.32 Z" fill="#fff" stroke="#000" stroke-width="1.0" stroke-linejoin="round"/>
<line x1="619.10" y1="454.77" x2="629.90" y2="454.77" stroke="#000" stroke-width="1.0" />
<line x1="623.30" y1="446.58" x2="625.70" y2="446.58" stroke="#000" stroke-width="0.85" stroke-dasharray="1.1 2.1"/>
<line x1="619.88" y1="459.33" x2="629.12" y2="459.33" stroke="#000" stroke-width="0.85" stroke-dasharray="1.1 2.1"/>
<path d="M647.50 465.91 C647.73 465.77 648.40 465.75 648.90 465.10 C649.40 464.45 650.03 463.29 650.50 462.01 C650.97 460.74 651.38 459.11 651.70 457.45 C652.02 455.80 652.22 453.78 652.40 452.08 C652.58 450.38 652.92 449.06 652.80 447.25 C652.68 445.44 652.18 443.11 651.70 441.21 C651.22 439.31 650.38 437.66 649.90 435.84 C649.42 434.03 649.10 432.45 648.80 430.34 C648.50 428.24 648.33 425.62 648.10 423.23 C647.87 420.84 647.60 418.09 647.40 415.98 C647.20 413.88 646.90 412.43 646.90 410.62 C646.90 408.80 647.42 406.92 647.40 405.11 C647.38 403.30 646.92 401.85 646.80 399.75 C646.67 397.64 646.67 393.71 646.65 392.50 L645.95 392.50 C645.92 393.71 645.92 397.64 645.80 399.75 C645.67 401.85 645.22 403.30 645.20 405.11 C645.18 406.92 645.70 408.80 645.70 410.62 C645.70 412.43 645.40 413.88 645.20 415.98 C645.00 418.09 644.73 420.84 644.50 423.23 C644.27 425.62 644.10 428.24 643.80 430.34 C643.50 432.45 643.18 434.03 642.70 435.84 C642.22 437.66 641.38 439.31 640.90 441.21 C640.42 443.11 639.92 445.44 639.80 447.25 C639.68 449.06 640.02 450.38 640.20 452.08 C640.38 453.78 640.58 455.80 640.90 457.45 C641.22 459.11 641.63 460.74 642.10 462.01 C642.57 463.29 643.20 464.45 643.70 465.10 C644.20 465.75 644.87 465.77 645.10 465.91 Z" fill="#fb1d0c" stroke="#000" stroke-width="1.0" stroke-linejoin="round"/>
<line x1="639.80" y1="447.25" x2="652.80" y2="447.25" stroke="#000" stroke-width="1.0" />
<line x1="645.08" y1="433.97" x2="647.52" y2="433.97" stroke="#000" stroke-width="0.85" stroke-dasharray="1.1 2.1"/>
<line x1="642.67" y1="455.71" x2="649.93" y2="455.71" stroke="#000" stroke-width="0.85" stroke-dasharray="1.1 2.1"/>
<path d="M668.70 469.66 C668.82 469.28 669.02 468.37 669.40 467.38 C669.78 466.40 670.40 465.10 671.00 463.76 C671.60 462.42 672.43 460.83 673.00 459.33 C673.57 457.83 674.02 456.33 674.40 454.77 C674.78 453.20 675.53 451.59 675.30 449.94 C675.07 448.28 673.65 446.60 673.00 444.84 C672.35 443.07 671.82 441.15 671.40 439.33 C670.98 437.52 670.80 436.05 670.50 433.97 C670.20 431.89 669.90 429.25 669.60 426.85 C669.30 424.46 668.77 421.55 668.70 419.61 C668.63 417.66 669.21 416.83 669.20 415.18 C669.19 413.52 668.74 410.59 668.65 409.68 L667.95 409.68 C667.86 410.59 667.41 413.52 667.40 415.18 C667.39 416.83 667.97 417.66 667.90 419.61 C667.83 421.55 667.30 424.46 667.00 426.85 C666.70 429.25 666.40 431.89 666.10 433.97 C665.80 436.05 665.62 437.52 665.20 439.33 C664.78 441.15 664.25 443.07 663.60 444.84 C662.95 446.60 661.53 448.28 661.30 449.94 C661.07 451.59 661.82 453.20 662.20 454.77 C662.58 456.33 663.03 457.83 663.60 459.33 C664.17 460.83 665.00 462.42 665.60 463.76 C666.20 465.10 666.82 466.40 667.20 467.38 C667.58 468.37 667.78 469.28 667.90 469.66 Z" fill="#fb1d0c" stroke="#000" stroke-width="1.0" stroke-linejoin="round"/>
<line x1="661.30" y1="449.94" x2="675.30" y2="449.94" stroke="#000" stroke-width="1.0" />
<line x1="666.15" y1="442.96" x2="670.45" y2="442.96" stroke="#000" stroke-width="0.85" stroke-dasharray="1.1 2.1"/>
<line x1="665.02" y1="457.45" x2="671.58" y2="457.45" stroke="#000" stroke-width="0.85" stroke-dasharray="1.1 2.1"/>
<path d="M603.30 363.40 V357.40 H667.80 V363.40" fill="none" stroke="#000" stroke-width="1.0" />
<text x="635.40" y="351.90" font-size="8.7" text-anchor="middle" font-weight="bold" fill="#000" stroke="#000" stroke-width="0.28" >ns</text>
<path d="M603.30 385.70 V379.70 H625.20 V385.70" fill="none" stroke="#000" stroke-width="1.0" />
<text x="614.40" y="374.30" font-size="8.7" text-anchor="middle" font-weight="bold" fill="#000" stroke="#000" stroke-width="0.28" >ns</text>
<path d="M646.30 385.70 V379.70 H668.50 V385.70" fill="none" stroke="#000" stroke-width="1.0" />
<text x="657.20" y="374.30" font-size="8.7" text-anchor="middle" font-weight="bold" fill="#000" stroke="#000" stroke-width="0.28" >p = 0.01</text>
<text x="570.30" y="484.20" font-size="9.0" text-anchor="start" font-weight="bold" fill="#000" stroke="#000" stroke-width="0.28" >LatA</text>
<text x="602.60" y="483.60" font-size="9.0" text-anchor="middle" font-weight="bold" fill="#000" stroke="#000" stroke-width="0.28" >-</text>
<text x="624.50" y="483.80" font-size="9.0" text-anchor="middle" font-weight="bold" fill="#000" stroke="#000" stroke-width="0.28" >+</text>
<text x="646.30" y="483.60" font-size="9.0" text-anchor="middle" font-weight="bold" fill="#000" stroke="#000" stroke-width="0.28" >-</text>
<text x="668.30" y="483.80" font-size="9.0" text-anchor="middle" font-weight="bold" fill="#000" stroke="#000" stroke-width="0.28" >+</text>
<line x1="598.30" y1="485.40" x2="628.80" y2="485.40" stroke="#000" stroke-width="1.0" />
<line x1="642.80" y1="485.40" x2="673.50" y2="485.40" stroke="#000" stroke-width="1.0" />
<text x="614.30" y="495.60" font-size="8.9" text-anchor="middle" font-weight="bold" font-style="italic" fill="#000" stroke="#000" stroke-width="0.28" >Mical1<tspan font-size="6.23" dy="-3.03">+/+</tspan></text>
<text x="658.50" y="495.60" font-size="8.9" text-anchor="middle" font-weight="bold" font-style="italic" fill="#000" stroke="#000" stroke-width="0.28" >Mical1<tspan font-size="6.23" dy="-3.03">-/-</tspan></text>
<text x="570.80" y="415.80" font-size="9.75" text-anchor="middle" font-weight="bold" fill="#000" stroke="#000" stroke-width="0.28" transform="rotate(-90 570.80 415.80)" >Rolling velocity (µm/s)</text>
</g>
</svg>
</body></html>
